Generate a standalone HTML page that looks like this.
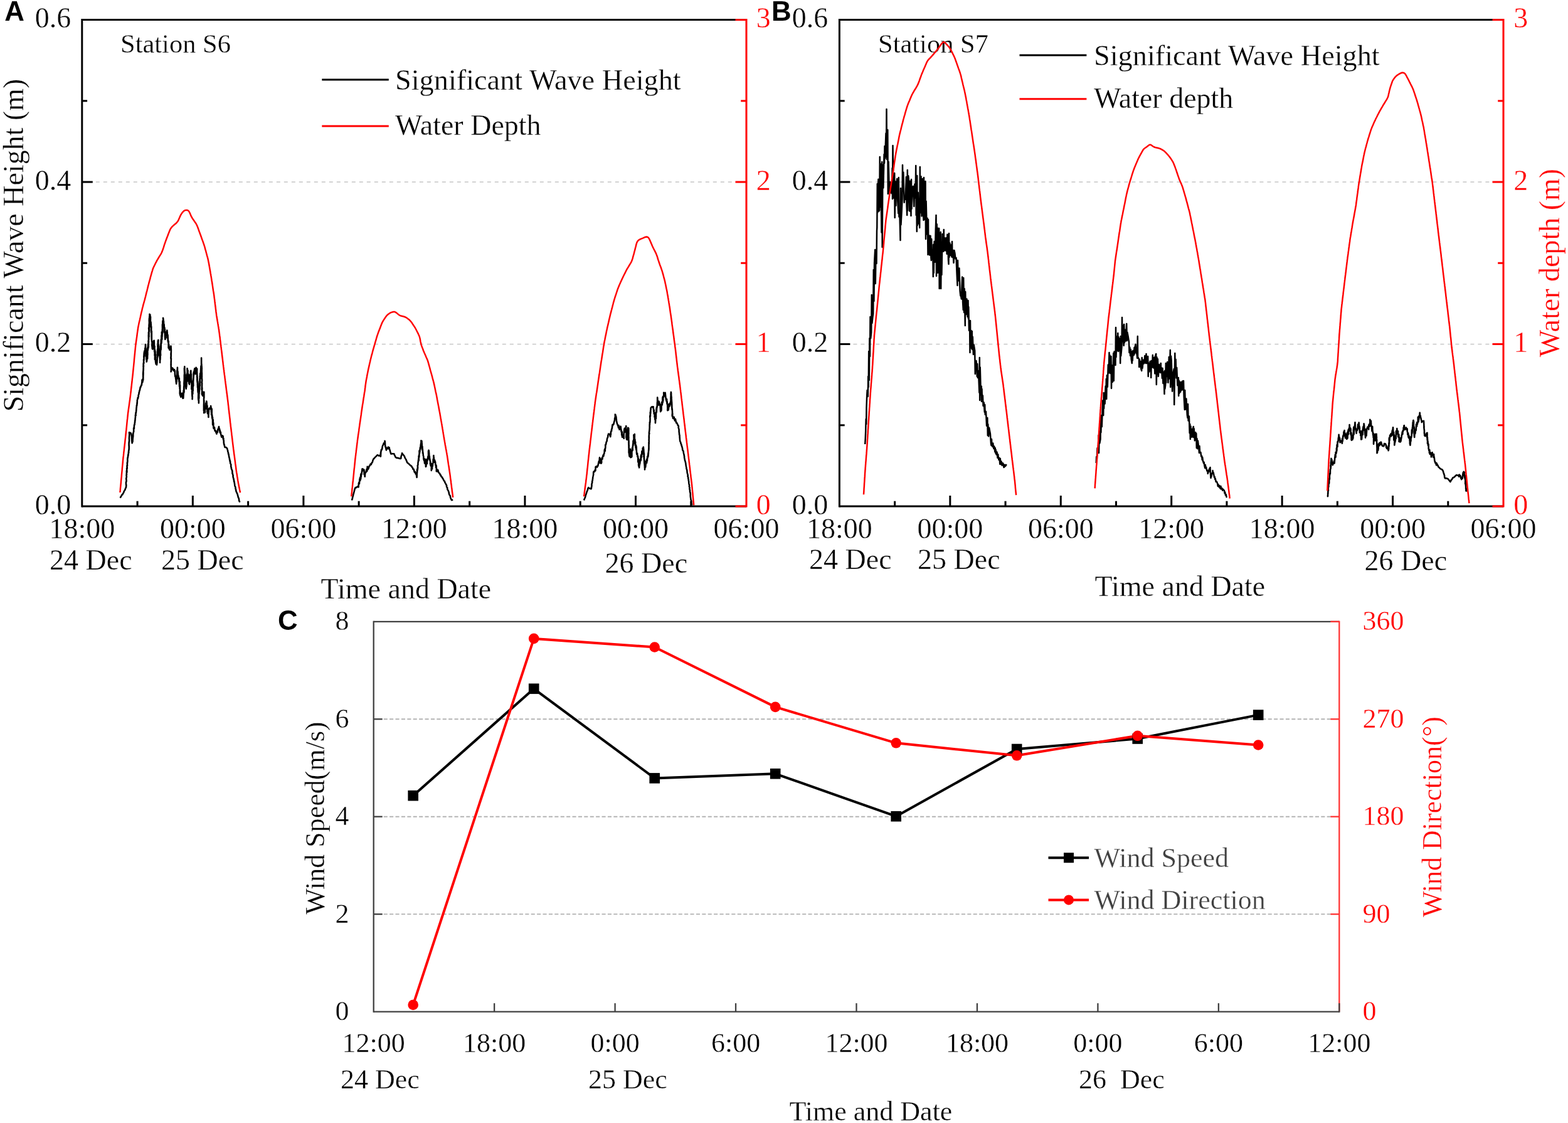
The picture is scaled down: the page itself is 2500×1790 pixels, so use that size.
<!DOCTYPE html>
<html lang="en">
<head>
<meta charset="utf-8">
<title>Significant wave height, water depth and wind</title>
<style>
html,body{margin:0;padding:0;background:#fff;}
body{width:2500px;height:1790px;overflow:hidden;}
svg text{white-space:pre;}
</style>
</head>
<body>
<svg width="2500" height="1790" viewBox="0 0 2500 1790" style="display:block">
<rect width="2500" height="1790" fill="#fff"/>
<line x1="152.8" y1="548.53" x2="1170.0" y2="548.53" stroke="#cdcdcd" stroke-width="1.8" stroke-dasharray="6 6"/>
<line x1="152.8" y1="290.07" x2="1170.0" y2="290.07" stroke="#cdcdcd" stroke-width="1.8" stroke-dasharray="6 6"/>
<text x="192.0" y="84.3" font-family='"Liberation Serif", serif' font-size="42.5" font-weight="normal" fill="#000" text-anchor="start" stroke="#ffffff" stroke-width="0.35" stroke-linejoin="round">Station S6</text>
<polyline points="191.7,793.7 192.4,792.1 192.8,791.6 193.5,790.6 194.3,788.8 195.4,788.3 195.9,786.8 196.7,785.7 197.4,784.6 197.6,783.4 198.5,782.0 199.6,780.2 199.9,778.9 200.6,777.6 201.1,776.2 201.1,775.3 201.3,773.0 200.9,771.8 201.0,771.0 200.9,769.1 201.2,767.9 201.6,767.0 201.5,765.7 201.3,763.7 201.2,762.8 201.6,761.0 201.8,760.2 201.7,758.8 201.5,756.9 202.0,756.4 201.7,755.0 201.9,753.6 201.8,750.5 202.4,752.6 202.3,750.1 202.1,746.3 202.3,747.4 202.8,746.4 202.4,742.5 203.0,741.5 203.0,742.4 202.8,738.2 203.2,737.5 203.0,738.1 202.9,737.2 203.5,735.0 203.3,734.1 203.4,729.9 203.6,730.2 204.0,728.0 203.9,728.6 204.3,724.6 204.3,726.5 204.8,722.5 204.9,722.5 204.9,720.3 205.2,721.4 205.1,718.4 205.6,717.2 205.5,716.2 205.7,715.7 205.8,711.8 205.7,713.5 205.7,710.4 205.5,709.7 205.6,709.4 205.6,705.6 206.0,703.4 205.9,704.9 205.8,703.8 206.1,702.5 205.9,698.4 205.9,698.8 206.1,695.8 206.2,695.6 206.1,695.4 206.4,692.6 206.3,692.7 206.0,689.2 206.3,689.4 207.2,689.6 208.6,690.4 209.3,692.3 209.5,693.1 209.6,693.7 210.0,696.0 210.0,699.2 210.1,699.4 210.3,702.9 210.3,704.1 210.6,702.3 210.6,706.3 211.0,705.2 211.0,703.3 211.2,701.8 211.6,703.8 211.5,702.2 211.7,700.0 212.0,696.7 212.2,696.2 212.2,695.2 212.3,693.7 212.2,690.6 212.3,690.7 212.4,691.0 213.1,687.8 213.3,687.7 213.2,687.4 213.1,682.6 213.9,681.0 213.9,683.1 213.8,681.1 214.1,677.0 214.2,677.6 214.7,676.5 214.7,675.9 214.9,673.2 215.2,673.2 215.0,671.0 215.4,671.0 215.5,668.6 215.8,665.7 216.0,664.4 216.0,664.9 215.9,661.5 216.6,662.2 216.3,658.3 217.0,658.3 216.9,657.0 217.2,655.1 217.2,653.5 217.2,654.9 217.4,652.7 217.5,649.9 217.7,649.5 217.7,649.4 217.9,646.1 218.3,646.3 218.5,641.8 218.6,644.0 218.8,641.0 218.8,638.2 219.2,636.5 219.8,635.3 219.5,634.3 220.2,634.6 220.3,632.9 220.8,631.7 220.6,630.0 221.2,628.7 221.6,627.6 221.5,626.3 222.1,624.8 222.3,623.0 222.7,621.9 222.9,622.1 223.6,617.6 224.0,616.7 224.1,617.6 224.8,615.2 225.2,614.8 225.6,613.1 225.8,614.0 226.5,607.4 226.4,606.2 227.2,604.6 227.3,609.4 227.7,606.5 228.1,606.0 228.3,605.3 228.1,600.0 228.4,603.0 228.0,595.9 228.3,599.6 228.5,593.6 228.2,596.0 228.1,594.3 228.7,589.1 228.3,593.1 228.7,586.7 228.7,588.2 228.5,587.9 228.7,586.5 228.5,583.4 228.9,584.6 228.7,579.1 228.6,582.0 229.2,576.3 229.3,578.9 229.0,573.8 229.1,573.0 229.3,572.1 229.3,573.8 229.5,574.2 229.7,567.2 229.6,565.8 229.3,569.6 229.7,563.0 230.3,559.7 230.4,567.8 230.7,560.7 230.4,559.2 230.7,560.7 231.2,557.8 231.3,555.1 231.7,557.0 232.0,549.1 232.0,554.5 231.9,559.3 232.1,554.5 232.5,556.0 232.6,561.3 232.5,556.8 233.1,564.3 233.1,562.1 233.3,561.3 233.4,563.2 233.1,567.8 233.4,573.2 233.9,573.1 233.8,576.6 234.2,574.3 234.3,573.9 234.1,573.9 234.3,568.9 234.4,570.9 234.6,566.3 234.6,563.7 235.1,568.9 235.1,571.7 235.3,558.4 235.4,565.7 235.2,556.3 235.2,555.0 235.4,558.6 235.5,553.4 236.0,555.6 235.7,558.6 236.0,548.2 236.4,551.8 236.3,554.3 236.2,555.5 236.6,551.2 236.4,554.6 236.8,552.7 236.6,543.5 236.7,548.2 236.5,543.2 237.0,546.3 236.8,533.7 237.2,540.8 237.1,539.1 236.9,529.9 237.2,531.5 237.1,533.9 237.5,537.0 237.4,525.8 237.1,522.8 237.6,526.7 237.6,527.2 237.5,532.3 237.6,517.4 237.9,528.3 237.6,519.7 238.0,513.3 237.7,520.2 238.1,516.5 237.8,511.1 238.0,507.0 238.2,507.3 238.5,506.2 238.3,504.4 238.2,508.6 238.6,509.2 238.7,504.9 238.5,500.8 238.6,510.1 238.8,502.8 239.1,510.7 238.8,511.4 239.4,501.8 239.3,507.8 239.4,507.9 239.7,511.0 240.0,505.1 239.8,515.9 240.0,513.3 240.1,521.0 240.3,515.0 240.7,516.3 240.5,513.2 241.0,522.1 240.8,516.4 241.1,530.2 241.3,520.7 241.1,523.2 241.4,530.9 241.5,529.1 241.6,534.2 241.5,534.5 241.8,528.1 241.8,529.8 241.8,541.6 241.7,540.4 241.5,535.2 241.7,539.0 242.0,543.5 241.8,540.3 242.0,543.2 242.1,545.3 242.5,544.0 242.3,551.3 242.5,551.6 242.4,550.3 242.4,550.6 242.5,551.9 242.9,556.1 243.4,556.5 243.7,548.1 244.0,548.2 243.8,551.4 244.4,549.3 244.5,549.9 245.1,545.0 244.8,545.1 245.3,543.1 245.2,549.3 245.6,551.4 245.7,542.7 245.9,547.2 245.9,547.0 245.7,556.0 245.9,549.0 246.2,560.8 246.5,551.8 246.6,552.7 246.4,553.2 246.7,562.0 246.6,566.8 246.9,563.4 247.1,558.1 246.9,572.9 247.5,560.1 247.6,569.7 247.7,567.9 247.7,564.7 247.8,566.5 247.7,568.1 248.0,576.2 248.7,580.4 249.6,581.2 250.0,581.5 250.1,579.9 250.1,578.1 250.3,579.2 250.8,568.9 250.5,569.7 250.8,569.8 250.6,565.1 251.0,562.7 251.1,563.8 251.1,564.0 250.8,560.9 251.2,565.7 251.3,569.0 250.9,562.8 251.0,565.6 251.2,561.2 251.1,557.0 251.3,559.7 251.3,559.3 251.6,554.0 251.4,550.9 251.6,550.6 251.9,544.9 252.0,552.4 251.8,552.5 251.8,551.7 251.8,543.8 252.4,541.9 252.1,550.3 252.6,553.1 252.5,551.8 252.9,549.5 253.2,555.0 253.1,551.4 253.4,555.1 253.7,564.9 253.4,556.2 253.6,563.9 253.7,566.5 254.2,561.4 253.9,564.6 254.1,563.7 254.4,562.5 254.8,571.9 254.9,571.7 255.1,577.9 255.0,564.9 255.2,572.3 255.3,573.7 255.5,572.3 255.7,564.3 255.6,562.0 255.9,558.1 255.7,561.4 256.2,566.1 255.8,564.0 256.3,551.0 256.1,552.8 256.3,553.3 256.5,547.1 256.6,557.4 256.7,554.7 256.7,553.9 256.7,541.8 256.8,549.0 257.4,541.4 257.1,540.5 257.4,547.0 257.4,534.9 257.5,543.1 257.6,545.1 257.9,534.1 257.8,529.2 258.2,541.1 258.3,539.7 258.1,530.6 258.5,533.3 258.5,536.8 258.8,527.4 258.7,525.9 259.2,530.8 258.9,517.2 259.0,526.0 259.3,521.0 259.2,522.0 259.2,520.7 259.4,511.8 259.5,511.4 259.9,513.6 260.2,512.2 260.0,511.2 260.5,509.8 260.0,506.8 260.4,512.2 260.4,519.5 260.7,516.5 261.1,517.2 260.9,511.9 261.0,518.5 261.3,520.3 261.7,520.8 261.7,517.4 261.9,528.6 262.1,529.7 262.0,527.4 262.2,522.0 262.4,522.2 262.7,530.6 262.9,525.0 263.2,534.8 262.8,531.4 263.0,537.3 263.3,541.0 264.1,538.8 264.3,537.1 265.2,529.2 265.5,528.9 266.2,534.6 266.3,526.5 266.8,531.1 266.7,531.7 267.2,537.2 266.8,538.5 267.5,534.4 267.5,533.8 267.8,539.7 267.6,543.0 267.8,539.9 267.9,544.9 267.8,540.7 268.2,545.9 268.3,546.0 268.7,544.5 268.7,543.7 268.6,554.5 269.0,548.7 269.3,551.3 269.4,550.1 269.2,555.1 269.4,554.4 269.8,556.0 270.5,557.8 271.4,553.7 272.5,551.6 272.9,558.0 272.6,557.6 272.9,556.9 272.8,563.5 272.5,564.0 272.7,563.0 272.5,566.3 272.6,562.5 272.8,564.2 272.5,571.2 272.8,566.4 272.4,569.4 272.5,571.9 272.5,572.2 272.9,571.3 272.6,579.4 272.5,580.4 272.5,580.7 272.9,580.7 272.6,581.2 272.7,585.7 272.9,584.9 272.7,586.3 272.8,589.3 272.9,586.7 272.8,591.6 272.6,592.4 274.3,586.3 275.4,586.9 276.6,590.7 278.4,591.3 278.0,589.1 278.7,592.8 278.6,592.6 278.9,591.1 278.9,596.0 279.2,599.8 279.5,599.7 279.5,599.3 279.9,600.4 279.9,601.2 280.3,604.6 280.5,605.5 280.7,608.8 281.1,610.1 281.1,611.8 281.2,610.2 281.7,607.7 281.3,605.1 281.9,606.0 282.0,601.6 281.9,600.3 282.0,600.8 282.1,596.8 282.1,599.6 282.4,598.5 282.2,596.3 282.4,590.1 282.6,596.0 282.9,585.8 283.0,593.2 282.9,589.3 283.4,596.3 283.5,592.0 283.8,596.8 284.0,597.6 284.4,603.5 284.6,599.4 284.7,600.0 284.8,602.6 285.2,602.5 285.5,608.7 285.8,602.7 285.9,612.5 285.9,607.0 286.1,616.0 286.7,608.3 286.6,619.5 286.4,613.2 286.7,615.2 287.0,622.5 287.1,614.0 286.7,626.8 286.8,628.0 287.2,626.8 287.1,629.8 287.1,628.5 287.2,622.2 287.8,631.0 288.4,632.9 289.0,627.4 290.1,631.5 290.6,626.7 291.3,633.9 291.6,631.5 291.6,626.6 291.5,634.9 292.2,634.8 292.4,631.9 292.4,628.9 292.6,630.7 292.5,622.8 293.0,626.8 293.2,615.9 293.4,618.2 293.5,625.0 293.5,615.9 293.4,609.8 293.6,609.6 293.6,606.9 293.8,615.3 293.5,614.7 293.5,614.8 293.6,613.2 294.0,610.6 294.0,612.3 293.7,611.3 293.9,597.3 293.9,600.9 293.8,600.1 293.9,596.8 294.1,601.6 294.0,596.6 294.2,599.2 293.9,587.1 294.4,591.0 294.3,598.4 294.2,593.2 294.5,588.8 294.3,591.9 294.3,584.4 294.4,589.8 294.8,596.0 294.7,596.8 294.5,591.3 295.0,596.1 295.2,600.7 295.3,596.9 295.2,600.5 295.2,605.5 295.4,603.2 295.6,609.0 295.5,605.0 295.9,604.7 296.1,603.4 295.9,602.6 296.3,617.2 296.0,612.8 296.5,618.3 296.6,612.0 296.7,613.1 296.8,619.8 296.9,608.2 296.6,612.2 297.0,605.5 297.2,609.9 297.1,617.6 297.6,613.2 297.4,601.2 297.6,610.2 297.6,603.6 298.0,602.9 297.9,597.6 298.3,607.6 298.4,594.6 298.2,604.4 298.5,599.4 298.3,601.6 298.3,599.3 298.7,595.7 298.5,587.4 298.9,591.3 299.0,595.5 299.1,590.2 299.5,590.4 299.4,601.5 299.6,602.5 300.0,605.7 300.0,595.9 300.1,596.1 300.1,598.9 300.6,599.8 300.5,606.2 300.6,605.8 301.0,606.7 301.1,602.9 300.8,608.4 301.2,608.8 301.2,611.0 301.7,610.7 302.0,612.8 302.4,603.8 302.4,598.2 302.5,609.7 302.7,597.4 303.2,600.9 303.8,603.7 303.9,592.1 304.3,599.3 304.5,598.4 304.3,590.9 304.5,606.3 304.8,604.9 304.7,606.6 304.9,596.6 304.8,604.6 305.1,603.7 304.9,606.7 305.3,610.8 305.2,608.2 305.6,608.0 305.5,616.1 305.7,607.5 305.4,619.2 305.4,620.3 305.7,619.6 306.0,617.2 306.2,621.3 306.4,623.8 306.0,623.5 306.5,632.3 306.3,629.6 306.8,632.1 306.6,636.3 306.7,632.3 306.6,626.1 306.7,622.7 307.1,622.4 307.2,622.2 307.3,627.8 307.2,618.3 307.2,611.4 307.4,618.4 307.7,623.2 307.4,609.8 307.6,614.7 308.0,605.8 307.9,616.0 308.0,612.9 308.3,614.9 308.1,608.7 308.4,601.2 308.2,607.6 308.4,600.6 308.6,602.3 308.5,600.5 308.5,595.1 308.8,599.2 308.9,592.9 309.3,595.9 309.8,590.2 310.4,587.3 311.5,596.3 312.1,591.2 312.6,585.9 313.7,588.8 313.9,591.9 313.8,595.5 313.6,595.9 314.2,587.7 314.0,595.9 314.2,593.5 314.2,600.2 314.4,600.2 314.1,600.8 314.3,597.3 314.4,607.7 314.3,604.4 314.5,600.8 314.6,609.5 315.0,609.7 314.9,614.1 314.9,606.7 315.0,608.4 315.0,617.8 315.3,611.8 315.4,608.5 315.7,619.8 315.5,622.6 315.4,619.2 315.6,624.0 315.7,625.4 316.1,620.0 316.2,619.1 315.7,623.6 316.2,627.3 316.1,626.8 316.3,624.5 316.1,635.3 316.6,630.6 316.3,636.9 316.4,638.0 316.5,629.5 316.9,642.4 317.0,633.3 316.7,637.8 316.7,630.7 317.0,631.2 317.3,629.6 317.3,635.0 317.2,629.9 317.3,624.3 317.5,628.2 317.6,627.2 317.5,624.2 317.7,624.9 318.2,619.7 317.9,623.5 318.1,614.8 318.3,619.8 318.2,611.3 318.6,610.6 318.7,615.1 318.6,612.8 318.5,603.5 318.5,611.3 318.9,607.5 318.7,599.6 318.9,600.3 319.1,595.2 319.4,603.4 319.4,597.4 319.7,601.9 319.5,601.3 319.5,600.9 319.8,595.1 320.3,585.9 320.1,597.4 320.5,596.1 320.6,583.7 320.4,593.2 320.4,583.5 320.5,590.7 320.8,590.2 321.2,589.4 321.1,581.0 321.2,582.5 321.1,570.6 321.1,582.5 321.5,588.1 321.4,580.3 321.2,581.4 321.7,584.4 321.1,580.7 321.4,582.1 321.6,585.6 321.7,594.3 321.3,594.6 321.8,586.1 321.6,597.3 321.5,600.0 321.9,598.7 321.5,595.1 321.9,594.2 321.9,598.2 321.8,604.2 321.7,602.7 322.0,600.0 321.6,600.1 322.1,604.7 322.1,607.9 321.5,609.6 321.8,608.8 321.9,615.1 322.1,610.2 322.0,619.5 321.8,621.1 321.7,621.1 321.7,621.3 321.9,615.4 322.1,617.6 322.3,618.8 321.9,628.1 323.2,630.9 323.9,624.9 325.2,625.7 325.3,631.4 325.2,629.9 325.3,624.8 325.3,634.2 325.2,629.5 325.0,637.1 325.1,643.2 325.4,645.5 325.3,638.8 325.4,638.6 325.0,644.2 325.4,646.1 325.1,649.9 325.3,644.8 325.4,652.2 324.9,654.7 325.0,643.3 324.9,648.1 325.3,646.0 325.4,655.8 325.1,658.2 325.5,655.7 326.2,654.4 326.9,657.4 326.9,651.3 327.8,651.1 328.3,642.6 328.4,651.5 329.3,639.6 329.5,640.8 329.3,650.5 329.5,641.2 329.8,645.5 330.5,647.0 330.4,656.2 331.1,659.1 330.9,657.3 331.5,659.0 331.6,656.9 332.1,659.2 332.4,665.0 332.5,660.7 333.1,651.5 333.8,650.5 334.5,651.7 335.5,651.3 336.1,647.1 336.5,650.3 337.0,657.7 337.3,658.1 337.4,656.8 337.1,661.1 337.2,650.9 337.7,652.1 337.7,657.8 337.7,659.8 338.2,666.6 338.0,660.6 338.2,662.1 338.6,667.7 339.0,669.2 339.0,665.4 339.0,667.6 339.0,669.7 339.1,677.1 339.7,669.0 339.8,671.9 339.8,674.4 340.1,679.1 340.3,674.4 340.2,675.3 340.3,676.2 340.4,682.2 341.1,683.1 341.9,681.2 342.6,686.9 343.1,686.9 343.7,686.3 344.4,689.1 345.4,691.6 345.5,690.7 346.6,686.8 346.8,689.0 347.5,684.0 347.9,685.0 348.5,681.9 349.0,680.0 349.3,682.7 350.0,683.6 350.7,689.5 350.7,686.0 351.4,690.0 351.9,689.0 351.9,691.1 353.3,696.7 354.3,694.3 354.9,696.1 355.6,695.0 355.7,699.4 356.0,698.9 356.4,698.8 356.3,701.6 356.7,701.7 356.8,706.2 356.8,705.5 357.2,708.8 357.5,708.2 357.7,709.4 357.8,710.2 358.5,712.9 359.8,713.0 360.7,713.3 362.1,714.6 362.4,715.8 362.7,716.8 363.2,718.3 363.1,719.2 363.5,720.4 364.1,722.0 364.0,723.4 364.7,724.3 364.8,725.9 365.1,727.3 365.2,728.4 365.5,729.5 365.9,730.9 366.1,732.8 366.7,733.5 366.5,735.2 367.3,736.3 367.0,737.5 367.3,738.8 368.1,740.0 368.3,741.0 368.2,742.3 368.3,744.3 368.9,745.6 368.8,746.8 369.2,747.9 369.6,748.7 370.2,750.0 370.4,751.7 370.5,753.1 370.4,754.7 370.9,755.1 371.3,756.9 371.7,758.4 371.4,759.3 371.7,760.5 372.0,761.9 372.6,763.2 372.5,764.3 373.1,765.8 373.0,767.5 373.6,768.0 373.8,769.9 374.1,771.5 374.1,771.9 374.3,773.7 374.6,775.0 375.2,775.9 375.5,777.5 375.5,779.2 376.1,780.1 376.2,781.8 376.6,783.3 377.2,784.7 377.4,785.2 378.2,786.8 378.7,788.0 379.1,790.0 379.5,790.8 379.7,792.7 380.4,793.4 380.9,795.5 381.1,796.5 381.2,798.3 381.7,798.9 382.3,800.6" fill="none" stroke="#000" stroke-width="2.6" stroke-linejoin="round" stroke-linecap="butt" stroke-linejoin="miter"/>
<polyline points="191.4,785.0 191.6,783.0 191.8,781.0 191.9,779.0 192.1,777.0 192.3,775.0 192.5,773.0 192.7,771.0 192.9,769.0 193.0,767.0 193.2,765.0 193.4,763.0 193.6,761.0 193.8,759.0 193.9,757.0 194.1,755.0 194.3,753.0 194.5,751.0 194.7,749.0 194.8,747.0 195.0,745.0 195.2,743.0 195.4,741.0 195.6,739.0 195.8,737.0 195.9,735.0 196.1,733.0 196.3,731.0 196.5,728.9 196.8,726.9 197.0,724.8 197.2,722.8 197.4,720.7 197.7,718.6 197.9,716.6 198.1,714.5 198.4,712.5 198.6,710.4 198.8,708.4 199.1,706.3 199.3,704.2 199.5,702.2 199.7,700.1 200.0,698.1 200.2,696.0 200.4,693.9 200.6,691.9 200.8,689.8 201.0,687.8 201.3,685.7 201.5,683.7 201.7,681.6 201.9,679.6 202.1,677.5 202.3,675.4 202.5,673.4 202.7,671.3 202.9,669.3 203.2,667.2 203.4,665.2 203.6,663.1 203.8,661.1 204.0,659.0 204.3,657.0 204.6,655.0 204.8,653.0 205.1,651.0 205.4,649.0 205.7,647.0 206.0,645.0 206.2,643.0 206.5,641.0 206.8,639.0 207.1,637.0 207.3,635.0 207.6,633.0 207.9,631.0 208.1,629.0 208.3,627.0 208.6,625.0 208.8,623.0 209.0,621.0 209.2,619.0 209.5,617.0 209.7,615.0 209.9,613.0 210.1,611.0 210.4,609.0 210.6,607.0 210.8,605.0 211.0,603.0 211.3,601.0 211.5,599.0 211.7,597.0 211.9,595.0 212.1,593.0 212.3,591.0 212.5,589.0 212.7,587.0 212.9,585.0 213.1,583.0 213.3,581.0 213.5,579.0 213.7,577.0 213.9,575.0 214.0,573.0 214.2,571.0 214.4,569.0 214.6,567.0 214.8,565.0 215.0,563.0 215.2,561.0 215.4,559.0 215.6,557.0 215.8,555.0 216.0,553.0 216.2,551.0 216.4,549.0 216.7,546.9 217.0,544.9 217.3,542.8 217.6,540.7 217.9,538.6 218.2,536.6 218.5,534.5 218.7,532.4 219.0,530.4 219.3,528.3 219.6,526.2 219.9,524.1 220.2,522.1 220.6,520.0 221.0,518.0 221.4,516.0 221.8,514.0 222.3,512.0 222.8,510.0 223.2,508.0 223.7,506.0 224.1,503.9 224.6,501.7 225.1,499.5 225.6,497.3 226.2,495.1 226.7,492.8 227.2,490.6 227.8,488.5 228.3,486.4 228.9,484.2 229.5,482.1 230.1,480.0 230.7,477.9 231.2,475.7 231.8,473.6 232.3,471.5 232.8,469.5 233.3,467.4 233.8,465.3 234.4,463.3 234.9,461.2 235.4,459.1 235.9,457.1 236.4,455.0 237.0,452.9 237.5,450.8 238.1,448.6 238.7,446.5 239.3,444.4 239.8,442.2 240.4,440.1 241.0,438.0 241.6,435.9 242.2,433.7 242.9,431.6 243.5,429.4 244.3,427.3 245.2,425.3 246.2,423.2 247.2,421.2 248.2,419.1 249.3,417.1 250.3,415.1 251.4,413.3 252.5,411.5 253.6,409.7 254.7,407.9 255.8,406.1 256.9,404.3 257.8,402.5 258.6,400.5 259.4,398.5 260.1,396.4 260.8,394.3 261.4,392.3 262.1,390.2 262.8,388.1 263.5,386.1 264.2,384.0 265.0,382.0 265.7,380.0 266.5,378.0 267.3,376.0 268.0,374.0 268.8,372.0 269.6,370.0 270.4,368.0 271.2,366.1 272.2,364.2 273.5,362.5 274.9,360.9 276.6,359.4 278.4,357.8 280.3,356.3 282.0,354.6 283.4,352.8 284.5,350.8 285.4,348.8 286.2,346.9 287.1,344.9 288.1,342.9 289.1,341.1 290.3,339.4 291.6,337.8 293.0,336.4 294.6,335.4 296.4,334.9 298.3,334.9 300.0,335.6 301.3,337.0 302.3,338.8 303.2,340.8 304.1,342.9 305.0,344.9 306.1,346.9 307.2,348.8 308.5,350.6 309.8,352.4 311.0,354.2 312.3,356.0 313.3,357.8 314.2,359.7 315.0,361.6 315.7,363.5 316.4,365.4 317.0,367.2 317.7,369.1 318.4,371.0 319.1,372.9 319.8,374.8 320.5,376.7 321.2,378.6 321.8,380.5 322.5,382.4 323.2,384.2 323.9,386.1 324.5,388.0 325.2,389.9 325.8,391.8 326.4,393.7 326.9,395.7 327.4,397.6 328.0,399.5 328.5,401.5 329.0,403.4 329.5,405.3 330.0,407.3 330.6,409.2 331.1,411.1 331.6,413.1 332.0,415.0 332.4,417.0 332.8,419.0 333.2,421.0 333.5,423.1 333.9,425.1 334.2,427.1 334.6,429.1 334.9,431.1 335.3,433.1 335.6,435.2 336.0,437.2 336.3,439.2 336.7,441.2 337.0,443.3 337.3,445.3 337.6,447.4 338.0,449.4 338.3,451.5 338.6,453.5 338.9,455.6 339.2,457.6 339.5,459.7 339.8,461.7 340.1,463.8 340.5,465.8 340.8,467.9 341.1,469.9 341.4,472.0 341.6,474.1 341.9,476.1 342.2,478.2 342.4,480.2 342.7,482.3 342.9,484.4 343.2,486.4 343.4,488.5 343.7,490.5 343.9,492.6 344.2,494.7 344.4,496.7 344.7,498.8 345.0,500.8 345.2,502.9 345.6,505.0 345.9,507.1 346.3,509.2 346.6,511.3 347.0,513.4 347.3,515.5 347.7,517.6 348.0,519.7 348.4,521.8 348.7,523.9 349.1,526.0 349.3,528.1 349.6,530.1 349.9,532.2 350.1,534.2 350.4,536.3 350.7,538.4 350.9,540.4 351.2,542.5 351.4,544.5 351.7,546.6 351.9,548.6 352.2,550.7 352.4,552.7 352.7,554.7 352.9,556.7 353.2,558.7 353.4,560.8 353.7,562.8 353.9,564.8 354.1,566.8 354.4,568.8 354.6,570.8 354.9,572.8 355.1,574.8 355.3,576.8 355.6,578.8 355.8,580.9 356.1,582.9 356.3,584.9 356.6,586.9 356.8,588.9 357.1,590.9 357.3,592.9 357.6,594.9 357.8,596.9 358.1,598.9 358.4,600.9 358.6,602.9 358.9,604.9 359.1,606.9 359.4,608.9 359.6,610.9 359.9,612.9 360.2,615.0 360.4,617.0 360.7,619.0 360.9,621.0 361.2,623.0 361.4,625.0 361.7,627.0 362.0,629.0 362.2,631.0 362.5,633.0 362.7,635.0 363.0,637.0 363.2,639.0 363.5,641.0 363.7,643.0 363.9,645.0 364.2,647.1 364.4,649.1 364.6,651.1 364.8,653.1 365.1,655.1 365.3,657.1 365.5,659.1 365.8,661.1 366.0,663.1 366.2,665.1 366.5,667.2 366.7,669.2 366.9,671.2 367.1,673.2 367.4,675.2 367.6,677.2 367.8,679.2 368.1,681.3 368.3,683.3 368.6,685.3 368.8,687.3 369.1,689.4 369.3,691.4 369.5,693.4 369.8,695.4 370.0,697.5 370.3,699.5 370.5,701.5 370.7,703.5 371.0,705.6 371.2,707.6 371.5,709.6 371.7,711.6 372.0,713.7 372.2,715.7 372.5,717.8 372.8,719.9 373.0,722.0 373.3,724.1 373.6,726.1 373.9,728.2 374.1,730.3 374.4,732.4 374.7,734.5 375.0,736.6 375.2,738.7 375.5,740.8 375.8,742.8 376.1,744.9 376.3,747.0 376.6,749.1 376.9,751.2 377.2,753.3 377.6,755.3 377.9,757.4 378.2,759.5 378.6,761.5 378.9,763.6 379.2,765.7 379.6,767.7 379.9,769.9 380.4,772.0 380.8,774.2 381.2,776.4 381.7,778.6 382.1,780.8 382.6,783.0 383.0,785.2" fill="none" stroke="#ff0000" stroke-width="2.5" stroke-linejoin="round" stroke-linecap="butt"/>
<polyline points="561.0,797.5 561.4,795.8 561.9,794.9 561.8,793.7 562.3,792.6 562.7,790.7 563.1,789.7 563.3,788.0 563.8,787.0 564.0,785.7 564.6,783.8 564.8,782.8 565.3,781.2 565.5,779.9 566.1,778.4 566.7,777.1 568.0,777.3 569.4,776.0 571.3,775.0 571.5,776.5 571.7,774.6 571.8,771.0 572.3,769.0 572.7,768.5 572.9,771.2 573.4,763.9 573.9,762.9 573.9,761.9 574.3,765.9 574.4,760.6 575.2,763.5 575.2,756.6 575.7,760.2 575.7,755.1 576.5,756.3 576.9,751.9 576.9,752.8 577.2,749.9 577.6,747.3 577.8,750.7 578.5,748.1 578.7,747.7 579.1,748.7 579.5,750.0 579.7,750.1 579.9,749.4 580.5,748.7 580.6,756.2 580.9,753.0 581.7,758.6 581.7,759.8 582.1,755.6 582.6,752.7 583.0,753.3 583.8,752.0 583.9,750.7 584.8,747.6 585.2,751.2 585.4,749.6 585.7,743.8 586.7,748.1 587.6,746.5 588.7,742.9 589.5,742.6 590.7,739.7 591.7,740.4 592.6,738.5 592.8,737.3 593.7,736.8 594.2,735.4 594.4,733.7 595.4,732.3 595.5,731.3 596.6,730.6 597.9,729.0 598.9,728.1 599.9,727.1 601.1,725.8 602.2,725.3 602.8,725.8 604.3,726.6 605.4,725.7 606.6,726.6 606.9,727.6 607.1,725.0 606.8,722.4 607.1,724.0 607.3,720.2 607.6,719.2 607.7,718.2 607.9,716.8 608.4,717.3 609.1,716.1 609.4,714.2 609.7,712.0 610.2,710.4 611.0,708.9 611.5,708.2 611.6,706.9 612.5,705.9 613.1,706.0 613.5,702.9 613.8,703.9 614.0,706.2 614.0,708.6 614.0,708.0 614.4,712.3 614.8,712.3 615.0,712.2 615.4,713.5 615.3,714.5 615.9,717.5 616.9,714.6 617.7,715.2 618.9,712.5 619.3,713.4 620.2,715.5 620.6,713.4 621.1,716.5 621.7,717.4 622.0,719.4 622.5,720.7 623.0,722.6 623.6,723.6 624.8,723.1 626.3,723.2 628.3,723.3 628.8,724.8 629.1,725.6 629.9,726.9 630.6,728.7 631.3,729.2 632.4,729.9 633.6,729.7 635.1,730.3 636.1,730.4 637.7,730.9 639.2,730.9 639.4,729.6 639.4,728.1 639.8,726.8 640.2,725.7 640.8,724.3 641.0,722.3 642.3,724.2 643.1,724.9 644.2,726.4 645.0,727.7 645.4,729.2 646.1,730.5 646.6,731.5 647.5,732.5 647.6,733.6 648.4,734.8 648.8,736.5 649.6,737.6 650.8,738.5 651.4,739.1 652.7,740.2 653.6,741.3 654.5,741.7 655.5,742.8 656.2,742.8 656.8,744.7 657.8,745.4 658.5,747.8 659.5,747.7 660.5,751.5 660.9,752.7 661.8,751.9 662.7,755.4 663.2,754.3 663.5,754.8 664.6,760.9 664.8,755.4 664.6,757.1 665.2,750.4 665.0,753.9 665.0,748.4 665.5,750.0 665.8,745.3 665.9,748.0 666.1,744.2 665.7,742.5 666.0,741.7 666.4,741.3 666.5,737.5 666.9,735.7 667.0,735.7 666.8,735.0 667.4,731.9 667.2,731.4 667.7,734.2 667.7,732.0 667.6,726.7 668.1,728.7 668.3,728.5 668.4,723.7 668.7,722.8 668.5,720.3 668.6,718.3 668.8,723.2 669.5,718.0 669.4,720.0 669.7,715.8 669.9,713.3 670.3,715.7 670.6,711.7 670.6,710.8 670.8,708.7 671.3,705.8 671.5,709.4 671.4,702.2 671.8,707.9 672.2,707.7 672.5,709.7 672.3,708.4 672.4,702.7 672.6,709.1 672.6,705.7 673.1,713.1 673.3,717.5 673.5,712.1 673.4,713.1 673.8,717.0 673.8,716.0 674.1,720.7 673.9,722.0 674.2,721.2 674.4,721.3 674.8,726.1 675.3,727.5 675.4,731.9 675.9,730.7 675.9,733.6 676.6,734.8 676.8,732.8 677.0,738.5 677.7,731.8 678.1,735.9 678.2,734.0 678.8,741.9 678.9,744.0 679.4,743.0 679.9,734.2 679.9,732.5 680.3,737.1 680.9,739.1 681.0,736.0 681.2,731.9 681.5,734.1 682.2,728.8 682.5,727.2 682.9,728.9 683.1,727.5 683.0,719.1 683.5,717.7 683.8,718.6 684.2,722.9 684.4,731.6 684.3,727.5 684.8,727.3 685.1,733.1 685.2,731.0 685.4,732.2 686.1,736.9 685.9,738.3 686.2,740.3 686.4,736.5 686.6,742.1 687.0,739.1 687.1,743.0 687.8,739.4 687.8,747.2 687.8,749.9 688.4,744.0 688.3,743.4 689.0,747.4 689.0,745.9 689.5,739.1 689.7,742.9 689.7,743.1 690.0,740.6 690.1,738.8 690.5,738.2 690.7,732.1 691.1,737.0 691.4,726.0 691.2,731.8 691.6,728.2 692.2,734.1 692.1,733.1 692.6,736.8 693.2,733.5 693.3,735.2 693.9,735.8 694.1,736.8 694.5,741.7 695.0,740.8 695.0,745.3 695.6,742.0 695.9,747.4 695.8,751.3 697.1,751.4 698.0,748.8 698.5,750.0 699.4,753.4 700.9,754.5 701.4,755.4 701.9,757.1 702.9,757.5 703.4,759.4 704.3,760.4 705.2,760.8 705.7,762.8 706.7,763.6 707.3,765.3 708.1,766.6 709.0,767.1 709.2,768.6 710.1,770.2 710.6,771.0 711.4,772.7 712.1,773.8 712.0,775.7 712.4,776.5 713.2,777.4 713.3,779.6 713.6,780.5 714.5,781.6 714.9,782.7 715.4,784.3 715.8,785.4 715.9,787.1 716.4,788.3 716.7,789.1 717.7,790.1 718.0,791.5 718.1,792.9 718.8,794.6 719.2,795.5 720.0,797.1 722.2,796.8" fill="none" stroke="#000" stroke-width="2.6" stroke-linejoin="round" stroke-linecap="butt" stroke-linejoin="miter"/>
<polyline points="560.2,791.4 560.4,789.3 560.6,787.2 560.9,785.1 561.1,783.0 561.3,780.9 561.5,778.8 561.8,776.7 562.0,774.6 562.2,772.5 562.4,770.4 562.6,768.3 562.9,766.2 563.1,764.1 563.3,762.0 563.5,760.0 563.7,757.9 563.9,755.8 564.1,753.8 564.3,751.7 564.5,749.7 564.7,747.6 565.0,745.6 565.2,743.5 565.4,741.5 565.6,739.4 565.8,737.4 566.0,735.3 566.2,733.3 566.4,731.2 566.7,729.1 566.9,727.1 567.2,725.0 567.4,723.0 567.7,720.9 567.9,718.8 568.2,716.8 568.4,714.7 568.7,712.7 568.9,710.6 569.2,708.5 569.4,706.5 569.7,704.4 569.9,702.4 570.2,700.3 570.5,698.3 570.8,696.3 571.0,694.3 571.3,692.4 571.6,690.4 571.9,688.4 572.2,686.4 572.4,684.4 572.7,682.4 573.0,680.4 573.3,678.5 573.5,676.5 573.8,674.5 574.1,672.5 574.4,670.5 574.7,668.5 575.0,666.5 575.3,664.4 575.6,662.4 575.9,660.4 576.1,658.4 576.4,656.4 576.7,654.4 577.0,652.3 577.3,650.3 577.6,648.3 577.9,646.3 578.2,644.2 578.6,642.2 578.9,640.1 579.2,638.1 579.5,636.0 579.8,633.9 580.2,631.9 580.5,629.8 580.8,627.8 581.1,625.7 581.5,623.7 581.8,621.6 582.0,619.5 582.3,617.4 582.5,615.3 582.8,613.2 583.1,611.1 583.4,609.0 583.7,607.0 584.1,605.0 584.5,603.0 584.9,601.0 585.2,598.9 585.6,596.9 586.0,594.9 586.4,592.9 586.8,590.9 587.2,588.9 587.7,586.9 588.1,584.9 588.6,582.9 589.0,580.9 589.5,578.8 590.0,576.8 590.4,574.8 590.9,572.8 591.4,570.8 591.9,568.8 592.4,566.7 593.0,564.6 593.6,562.5 594.1,560.3 594.7,558.2 595.3,556.1 595.9,554.0 596.5,551.9 597.1,549.8 597.7,547.8 598.3,545.7 598.9,543.6 599.5,541.6 600.1,539.5 600.7,537.4 601.3,535.4 602.0,533.3 602.7,531.3 603.4,529.3 604.2,527.3 605.0,525.3 605.8,523.3 606.5,521.3 607.3,519.3 608.1,517.3 608.9,515.3 609.8,513.3 610.9,511.4 612.2,509.4 613.4,507.5 614.7,505.6 616.1,503.7 617.6,502.0 619.5,500.5 621.4,499.2 623.5,498.2 625.5,497.4 627.5,497.0 629.4,497.1 631.1,497.9 632.7,499.1 634.2,500.4 635.8,501.7 637.6,502.8 639.5,503.5 641.5,504.0 643.6,504.5 645.6,505.2 647.5,506.1 649.2,507.3 650.9,508.5 652.6,509.8 654.1,511.3 655.5,513.0 656.9,514.8 658.1,516.8 659.4,518.7 660.7,520.6 661.9,522.5 663.0,524.5 664.0,526.5 665.0,528.5 666.0,530.4 667.0,532.4 667.9,534.4 668.7,536.4 669.3,538.5 669.8,540.5 670.1,542.6 670.5,544.7 671.0,546.7 671.5,548.8 672.1,550.8 672.8,552.9 673.6,554.9 674.4,557.0 675.1,559.0 676.0,561.1 676.8,563.1 677.7,565.1 678.6,567.1 679.4,569.0 680.3,571.0 681.2,573.0 682.0,575.1 682.6,577.1 683.2,579.2 683.8,581.4 684.4,583.5 685.0,585.6 685.6,587.8 686.1,589.9 686.7,592.0 687.3,594.1 687.9,596.2 688.5,598.4 689.1,600.5 689.6,602.6 690.2,604.8 690.8,606.9 691.3,608.9 691.8,610.9 692.2,612.9 692.7,614.9 693.1,616.9 693.5,618.8 693.9,620.8 694.3,622.7 694.7,624.7 695.2,626.7 695.6,628.6 696.0,630.6 696.4,632.7 696.8,634.7 697.1,636.8 697.5,638.8 697.9,640.9 698.3,642.9 698.7,645.0 699.1,647.0 699.5,649.1 699.8,651.1 700.2,653.1 700.6,655.2 701.0,657.2 701.3,659.1 701.7,661.1 702.0,663.1 702.4,665.1 702.7,667.0 703.1,669.0 703.4,671.0 703.8,673.0 704.1,674.9 704.5,677.0 704.8,679.0 705.2,681.2 705.5,683.3 705.9,685.4 706.2,687.5 706.6,689.7 706.9,691.8 707.3,693.9 707.6,696.0 708.0,698.2 708.3,700.3 708.7,702.3 709.0,704.3 709.4,706.3 709.7,708.4 710.1,710.4 710.5,712.4 710.8,714.4 711.2,716.4 711.6,718.4 711.9,720.5 712.3,722.5 712.6,724.5 713.0,726.5 713.3,728.6 713.6,730.6 713.9,732.7 714.2,734.7 714.5,736.8 714.8,738.9 715.1,740.9 715.5,743.0 715.8,745.0 716.1,747.1 716.4,749.2 716.7,751.2 717.0,753.3 717.3,755.3 717.6,757.4 717.9,759.5 718.1,761.6 718.4,763.7 718.7,765.8 719.0,767.8 719.2,769.9 719.5,772.0 719.8,774.1 720.0,776.2 720.3,778.3 720.6,780.4 720.8,782.5 721.1,784.5 721.4,786.6 721.7,788.7 721.9,790.8 722.2,792.9" fill="none" stroke="#ff0000" stroke-width="2.5" stroke-linejoin="round" stroke-linecap="butt"/>
<polyline points="931.0,797.6 931.4,796.6 931.7,795.5 932.3,794.2 933.0,792.8 933.4,791.2 933.6,790.2 934.1,788.5 934.7,787.2 934.9,786.4 935.4,784.7 935.6,784.1 936.2,782.5 936.8,781.4 937.1,779.8 937.4,778.6 938.2,777.1 939.3,778.3 941.1,778.6 942.4,779.4 943.0,777.8 943.0,776.2 943.4,775.2 943.5,773.7 943.3,772.3 943.7,771.1 943.8,770.0 944.3,768.9 944.1,767.3 944.8,765.6 944.8,764.5 944.9,763.5 945.2,762.2 945.2,760.6 945.5,759.5 945.8,758.2 946.1,756.5 946.3,755.7 946.1,754.6 946.3,752.3 947.1,751.3 948.0,751.8 948.5,749.4 949.4,750.2 949.6,744.3 950.6,743.5 951.0,744.0 952.1,744.6 952.4,743.6 952.6,742.5 953.2,742.9 953.8,740.4 954.0,739.1 954.9,735.0 955.1,738.3 955.7,733.2 956.0,729.4 956.8,731.3 957.0,735.2 957.1,737.5 957.7,738.4 958.1,736.3 958.6,738.6 959.1,737.4 959.1,733.0 959.5,731.3 960.0,729.3 960.5,731.7 960.6,729.8 961.3,726.8 962.0,725.0 962.0,724.8 962.3,727.1 962.7,724.6 963.6,721.6 963.8,717.1 964.5,715.9 964.4,715.4 964.9,718.8 964.7,717.4 965.4,712.3 965.2,709.0 965.8,708.7 965.8,708.7 966.0,708.9 966.4,706.4 966.7,704.5 966.9,704.4 967.8,702.6 967.7,701.4 967.9,700.1 968.3,698.4 968.8,697.2 969.4,696.3 969.2,694.5 969.5,693.4 970.1,692.4 970.1,691.6 971.5,691.9 972.7,694.1 973.3,696.1 973.5,690.8 973.8,693.1 974.0,688.3 974.3,687.3 974.9,687.1 975.1,687.0 975.0,684.6 975.1,685.0 975.9,682.4 976.0,681.1 976.5,677.1 977.0,678.0 977.9,676.2 978.3,676.4 979.0,673.2 979.7,670.7 979.8,671.2 980.1,668.3 980.1,667.7 980.1,666.9 980.8,664.9 980.9,664.3 980.9,664.7 980.8,660.5 981.3,661.1 981.7,662.6 981.6,664.4 981.8,664.0 982.4,664.4 982.5,667.1 982.7,668.0 983.0,671.0 983.2,671.6 983.2,672.0 984.0,675.5 984.1,675.2 984.4,676.5 985.3,678.8 985.6,678.5 986.0,681.8 986.5,678.1 987.6,684.7 988.5,682.7 989.6,679.7 990.6,688.3 990.5,685.2 990.8,687.7 990.7,686.2 991.2,690.9 991.2,693.5 991.8,688.3 991.6,692.3 991.8,691.7 992.0,696.8 992.2,693.3 992.6,696.0 992.5,695.4 992.8,694.0 993.2,697.0 993.5,695.4 993.8,693.4 994.7,698.9 994.6,692.6 995.2,685.1 995.2,685.0 995.7,683.1 995.9,688.1 996.5,688.7 996.7,682.2 997.5,682.3 997.8,681.7 998.2,680.7 998.0,683.6 998.2,679.0 998.5,690.5 998.6,692.8 998.6,693.0 998.7,691.0 998.5,695.1 998.3,697.7 998.9,685.2 998.8,689.1 998.9,697.2 999.1,700.1 999.1,698.8 999.3,690.5 999.8,701.0 1000.1,687.0 1000.8,689.7 1001.1,684.7 1001.3,681.9 1002.2,682.5 1002.2,695.3 1002.3,684.7 1002.1,688.8 1002.4,690.6 1002.0,694.0 1002.2,690.7 1002.1,700.7 1002.2,697.1 1002.4,697.7 1002.2,695.7 1002.4,705.9 1002.5,709.7 1002.6,702.6 1002.5,704.4 1002.5,703.7 1002.5,705.4 1002.6,704.1 1002.6,713.8 1002.8,709.5 1002.7,712.3 1002.6,721.6 1003.0,721.4 1002.6,720.1 1003.6,727.5 1004.3,722.5 1005.0,715.9 1005.4,729.1 1005.7,723.3 1006.8,728.7 1006.9,720.3 1007.3,726.2 1007.4,727.7 1007.4,718.3 1007.9,718.7 1008.1,714.0 1008.3,713.4 1008.8,717.7 1008.7,714.7 1008.9,711.4 1009.3,707.1 1009.2,710.7 1009.4,710.0 1009.5,703.0 1009.9,702.4 1009.8,702.6 1010.3,700.8 1010.2,707.1 1010.8,703.5 1010.4,693.2 1010.7,702.4 1010.9,697.0 1011.2,693.9 1011.6,694.7 1011.6,699.9 1011.8,692.0 1011.8,701.6 1011.9,701.2 1012.0,705.0 1012.1,705.5 1012.4,700.6 1012.8,709.6 1012.8,706.3 1013.2,704.4 1013.0,709.7 1013.2,708.2 1013.6,714.0 1013.9,712.5 1014.1,709.9 1014.3,716.9 1014.6,712.0 1015.0,721.9 1015.0,720.3 1015.2,724.0 1015.4,721.7 1015.8,723.9 1016.2,723.0 1016.0,722.8 1016.4,727.9 1016.4,725.6 1017.2,727.7 1017.2,735.6 1017.6,736.9 1017.3,730.5 1017.6,730.4 1018.3,736.1 1018.1,740.6 1018.3,742.9 1018.6,739.7 1018.8,740.2 1019.1,745.4 1019.5,740.3 1019.7,741.2 1020.4,736.2 1020.4,738.4 1020.6,732.3 1020.8,733.5 1021.6,734.2 1021.7,726.9 1022.0,733.4 1022.1,726.7 1022.3,724.8 1022.9,728.8 1023.4,719.3 1023.7,720.5 1023.7,721.5 1024.6,723.5 1024.7,714.4 1025.4,717.5 1025.8,720.1 1025.8,712.6 1026.1,716.2 1026.0,718.7 1026.1,717.6 1026.3,718.9 1026.2,716.1 1026.7,724.6 1026.4,728.1 1027.0,723.8 1026.6,721.6 1027.0,728.4 1026.9,724.8 1026.8,731.5 1027.0,727.6 1027.0,730.2 1027.3,738.4 1027.6,739.5 1027.5,734.4 1027.6,741.4 1027.7,736.0 1027.6,737.7 1027.9,745.7 1028.3,744.3 1028.0,748.4 1028.3,743.6 1029.2,744.5 1029.5,740.6 1029.6,740.9 1030.1,735.0 1030.3,737.7 1031.2,737.6 1031.0,732.6 1031.8,731.3 1031.9,734.6 1032.2,727.7 1032.4,729.4 1032.6,729.7 1032.8,728.4 1033.4,723.4 1033.5,727.4 1033.5,722.1 1033.8,724.2 1034.0,719.7 1034.2,716.8 1034.2,718.1 1034.3,718.5 1034.3,715.1 1034.5,716.4 1034.5,715.1 1034.5,708.6 1034.7,707.1 1034.4,705.6 1034.8,706.3 1034.5,708.0 1034.8,703.4 1034.7,704.9 1034.8,703.0 1034.6,701.7 1034.9,697.1 1034.7,694.7 1034.7,698.4 1034.8,693.9 1034.8,693.9 1034.9,692.7 1035.2,690.6 1035.4,690.8 1034.8,690.7 1035.4,685.9 1035.4,685.2 1035.5,685.7 1035.5,684.9 1035.7,681.4 1035.7,679.6 1035.6,678.9 1035.9,676.4 1035.6,676.4 1036.0,676.3 1035.8,673.2 1036.2,673.2 1036.3,673.7 1036.4,672.1 1036.5,668.2 1036.5,665.9 1036.4,665.8 1036.2,663.1 1036.9,663.5 1036.7,660.6 1037.0,662.7 1036.7,657.4 1037.0,657.2 1037.2,659.2 1037.4,655.0 1037.0,657.8 1037.3,654.1 1037.6,652.8 1037.6,651.2 1037.6,650.2 1038.9,648.6 1039.9,648.2 1041.6,650.4 1041.5,650.0 1041.6,648.2 1041.9,651.3 1042.3,656.2 1042.3,656.5 1042.8,653.5 1042.7,659.4 1043.3,657.8 1043.3,657.9 1043.7,659.6 1043.6,664.8 1044.2,659.8 1044.1,663.6 1044.1,662.8 1044.3,668.7 1044.6,663.7 1045.2,669.7 1044.9,674.1 1045.0,664.8 1045.6,666.9 1045.5,667.4 1045.7,667.0 1045.9,667.2 1045.8,660.2 1046.0,664.6 1045.9,657.4 1046.1,659.1 1046.7,653.5 1046.4,652.8 1046.5,653.8 1046.6,650.8 1046.8,657.0 1047.1,649.9 1046.9,648.9 1047.1,650.5 1047.4,649.9 1047.4,649.8 1047.7,648.1 1047.9,641.2 1048.1,646.9 1048.2,638.5 1048.1,643.6 1048.2,633.6 1048.9,642.5 1049.1,643.7 1049.5,639.6 1050.3,645.7 1050.6,639.9 1051.5,642.8 1051.5,643.1 1052.0,644.0 1052.5,644.3 1053.2,656.2 1054.0,649.4 1053.7,655.1 1054.3,654.4 1054.5,652.5 1054.5,648.6 1054.8,645.9 1055.2,643.8 1055.1,641.1 1055.5,641.1 1055.8,645.4 1056.3,637.7 1056.5,633.3 1056.3,634.9 1056.8,641.4 1057.1,631.7 1057.3,638.7 1057.4,631.8 1057.3,632.2 1057.9,633.0 1058.3,632.6 1058.2,625.7 1059.0,631.0 1059.6,627.7 1060.6,625.9 1061.3,632.6 1062.0,637.7 1062.5,636.0 1062.3,637.5 1062.9,635.9 1062.6,639.7 1063.2,639.5 1063.1,636.9 1063.5,643.3 1063.1,638.5 1063.8,640.9 1063.7,644.3 1063.7,642.9 1064.1,644.4 1064.5,654.3 1064.2,653.5 1064.5,650.3 1065.1,649.1 1065.8,648.6 1065.7,653.5 1066.8,643.8 1067.0,645.1 1067.3,647.6 1067.9,646.8 1068.9,640.9 1069.1,644.1 1069.5,643.5 1069.3,639.8 1069.5,640.7 1069.5,633.8 1069.6,631.8 1069.6,635.1 1069.4,635.3 1069.7,629.3 1069.7,632.0 1069.9,631.5 1069.8,629.5 1069.5,627.7 1070.1,626.6 1070.2,628.8 1069.8,625.0 1070.0,626.2 1070.0,632.6 1070.2,629.8 1070.5,634.6 1070.7,633.2 1070.3,636.5 1070.6,635.2 1071.0,640.9 1070.9,640.2 1070.9,644.1 1070.9,641.6 1071.1,640.9 1071.2,647.1 1071.2,643.4 1071.3,649.6 1071.1,647.8 1071.2,648.6 1071.4,649.8 1071.4,652.8 1071.7,651.6 1072.0,656.7 1072.0,659.0 1071.7,661.4 1072.1,659.0 1071.7,663.3 1072.3,659.0 1072.2,662.2 1073.1,667.0 1073.7,664.8 1074.7,664.8 1075.5,669.4 1076.3,670.7 1076.9,668.1 1077.8,672.4 1078.3,674.1 1079.0,673.7 1079.3,674.8 1080.2,676.1 1080.7,677.8 1081.6,678.4 1081.9,680.4 1081.6,680.9 1081.9,682.4 1082.4,684.2 1082.6,684.9 1082.6,686.3 1082.6,688.3 1082.9,689.5 1082.8,690.1 1083.2,692.2 1083.0,692.9 1083.6,693.9 1083.6,696.1 1083.6,696.9 1083.8,698.0 1083.9,699.9 1084.0,700.9 1084.1,701.9 1084.4,703.6 1085.3,705.1 1085.3,706.3 1085.9,707.7 1086.4,708.4 1086.5,710.1 1087.2,711.4 1087.4,712.3 1087.9,713.9 1088.1,715.2 1088.2,716.6 1088.6,718.1 1089.4,718.8 1089.7,720.3 1089.7,721.1 1090.0,722.5 1090.5,724.3 1090.7,725.6 1090.9,726.5 1091.1,727.7 1091.1,729.0 1091.3,730.3 1091.7,731.7 1091.8,732.7 1092.1,734.3 1092.7,735.5 1092.8,736.7 1093.2,738.0 1093.4,739.7 1093.6,741.2 1093.7,741.7 1094.0,743.5 1094.3,744.8 1094.5,745.5 1094.4,747.0 1095.0,748.3 1095.4,750.3 1095.4,751.1 1095.6,752.5 1095.7,753.9 1096.2,755.3 1096.4,756.2 1096.8,757.9 1096.5,759.2 1097.2,760.8 1097.2,761.6 1097.4,763.5 1097.9,764.7 1097.7,766.0 1098.2,767.0 1098.2,768.6 1098.3,769.8 1098.4,770.7 1098.7,772.3 1099.1,773.4 1098.9,775.5 1099.2,776.5 1099.6,777.6 1099.3,779.4 1099.7,780.1 1100.0,781.9 1100.0,783.2 1100.1,784.3 1100.6,785.3 1100.7,786.7 1100.8,788.4 1100.8,789.6 1100.7,790.3 1100.9,791.6 1101.0,793.0 1101.3,794.3 1101.5,796.4 1102.0,797.3 1102.1,798.6 1102.4,800.0 1102.4,801.8 1102.8,802.9 1103.0,803.8 1103.1,805.3" fill="none" stroke="#000" stroke-width="2.6" stroke-linejoin="round" stroke-linecap="butt" stroke-linejoin="miter"/>
<polyline points="931.0,791.4 931.3,789.3 931.6,787.2 931.8,785.1 932.1,783.0 932.4,780.9 932.7,778.8 932.9,776.8 933.2,774.7 933.5,772.6 933.8,770.5 934.1,768.4 934.3,766.3 934.6,764.2 934.9,762.1 935.1,760.0 935.3,758.0 935.6,755.9 935.8,753.9 936.0,751.8 936.2,749.8 936.4,747.7 936.7,745.6 936.9,743.6 937.1,741.5 937.3,739.5 937.5,737.4 937.7,735.4 938.0,733.3 938.2,731.2 938.4,729.2 938.6,727.1 938.8,725.1 939.1,723.0 939.3,721.0 939.5,718.9 939.7,716.9 940.0,714.8 940.2,712.8 940.5,710.8 940.7,708.7 941.0,706.7 941.2,704.7 941.4,702.6 941.7,700.6 941.9,698.6 942.2,696.6 942.4,694.5 942.6,692.5 942.9,690.5 943.1,688.4 943.4,686.4 943.6,684.4 943.9,682.3 944.1,680.3 944.3,678.3 944.6,676.2 944.8,674.2 945.1,672.2 945.3,670.1 945.6,668.1 945.8,666.1 946.1,664.0 946.3,662.0 946.6,660.0 946.8,658.0 947.1,655.9 947.3,653.9 947.6,651.9 947.8,649.8 948.1,647.8 948.3,645.8 948.6,643.7 948.8,641.7 949.1,639.6 949.4,637.6 949.7,635.5 950.0,633.5 950.3,631.4 950.6,629.4 950.9,627.3 951.3,625.3 951.6,623.2 951.9,621.2 952.2,619.1 952.5,617.1 952.8,615.0 953.1,613.0 953.4,610.9 953.7,608.8 954.0,606.8 954.3,604.7 954.6,602.7 954.9,600.6 955.2,598.5 955.5,596.5 955.9,594.4 956.2,592.4 956.5,590.3 956.8,588.2 957.1,586.2 957.4,584.1 957.7,582.1 958.0,580.0 958.3,578.0 958.6,576.0 959.0,574.0 959.3,572.0 959.6,570.0 959.9,568.0 960.2,566.0 960.5,564.0 960.9,562.0 961.2,560.0 961.5,558.0 961.8,556.0 962.1,554.0 962.4,552.0 962.8,550.0 963.1,548.0 963.4,546.0 963.8,543.9 964.3,541.8 964.7,539.7 965.1,537.6 965.5,535.5 966.0,533.4 966.4,531.3 966.8,529.2 967.2,527.1 967.7,525.0 968.1,522.9 968.6,520.8 969.1,518.7 969.6,516.6 970.1,514.5 970.6,512.4 971.0,510.3 971.5,508.2 972.0,506.1 972.5,504.0 973.0,501.9 973.5,499.8 974.1,497.7 974.6,495.6 975.2,493.5 975.7,491.4 976.3,489.3 976.8,487.1 977.4,485.0 977.9,482.9 978.5,480.8 979.1,478.7 979.7,476.6 980.3,474.6 981.0,472.5 981.7,470.4 982.4,468.4 983.0,466.3 983.7,464.3 984.4,462.2 985.1,460.2 985.9,458.2 986.7,456.2 987.5,454.2 988.4,452.3 989.2,450.4 990.1,448.5 991.0,446.6 991.9,444.6 992.8,442.7 993.7,440.7 994.7,438.7 995.7,436.7 996.7,434.8 997.7,432.8 998.7,430.8 999.7,428.9 1000.8,427.1 1001.9,425.3 1003.0,423.5 1004.1,421.7 1005.2,419.9 1006.2,418.1 1007.2,416.2 1007.9,414.2 1008.6,412.1 1009.1,410.0 1009.7,407.9 1010.3,405.8 1010.9,403.6 1011.4,401.5 1012.0,399.4 1012.6,397.2 1013.1,395.0 1013.7,392.8 1014.2,390.6 1014.8,388.4 1015.5,386.3 1016.6,384.4 1018.1,382.8 1020.1,381.6 1022.2,380.6 1024.4,379.8 1026.5,378.9 1028.6,378.0 1030.6,377.5 1032.4,377.8 1033.9,378.9 1035.0,380.6 1035.9,382.3 1036.7,384.2 1037.5,386.1 1038.3,388.0 1039.1,389.8 1039.9,391.8 1040.8,393.7 1041.8,395.7 1042.8,397.7 1043.8,399.6 1044.8,401.6 1045.8,403.6 1046.6,405.6 1047.4,407.7 1048.1,409.7 1048.7,411.8 1049.3,413.9 1050.0,415.9 1050.7,418.0 1051.4,420.0 1052.1,422.1 1052.9,424.2 1053.7,426.2 1054.4,428.3 1055.1,430.3 1055.8,432.4 1056.4,434.6 1057.0,436.7 1057.6,438.8 1058.1,440.9 1058.7,443.1 1059.3,445.2 1059.8,447.3 1060.3,449.3 1060.7,451.4 1061.2,453.5 1061.6,455.5 1062.0,457.6 1062.4,459.6 1062.9,461.7 1063.3,463.8 1063.7,465.8 1064.0,467.9 1064.4,470.0 1064.8,472.1 1065.1,474.2 1065.5,476.3 1065.8,478.5 1066.2,480.6 1066.5,482.7 1066.9,484.8 1067.2,486.9 1067.6,489.0 1067.9,491.2 1068.2,493.3 1068.5,495.5 1068.8,497.6 1069.1,499.8 1069.5,502.0 1069.8,504.1 1070.1,506.3 1070.4,508.4 1070.7,510.6 1071.0,512.7 1071.3,514.8 1071.5,516.9 1071.8,519.0 1072.1,521.1 1072.4,523.2 1072.7,525.3 1073.0,527.4 1073.2,529.5 1073.5,531.6 1073.8,533.7 1074.1,535.8 1074.4,537.9 1074.6,540.0 1074.9,542.1 1075.2,544.2 1075.5,546.4 1075.8,548.5 1076.1,550.6 1076.3,552.7 1076.6,554.8 1076.9,556.9 1077.1,559.0 1077.4,561.1 1077.6,563.2 1077.8,565.3 1078.1,567.4 1078.3,569.5 1078.6,571.6 1078.8,573.7 1079.0,575.8 1079.3,577.9 1079.5,580.0 1079.8,582.0 1080.0,584.1 1080.3,586.1 1080.6,588.1 1080.8,590.2 1081.1,592.2 1081.4,594.2 1081.6,596.3 1081.9,598.3 1082.2,600.3 1082.5,602.3 1082.7,604.4 1083.0,606.4 1083.3,608.4 1083.5,610.5 1083.8,612.5 1084.1,614.5 1084.3,616.6 1084.6,618.6 1084.8,620.6 1085.1,622.7 1085.3,624.7 1085.6,626.7 1085.8,628.8 1086.1,630.8 1086.3,632.8 1086.5,634.9 1086.8,636.9 1087.0,638.9 1087.3,640.9 1087.5,643.0 1087.7,645.0 1088.0,647.0 1088.2,649.1 1088.5,651.1 1088.7,653.1 1089.0,655.2 1089.2,657.2 1089.4,659.2 1089.7,661.3 1089.9,663.3 1090.2,665.3 1090.4,667.3 1090.7,669.4 1090.9,671.4 1091.1,673.4 1091.4,675.4 1091.6,677.5 1091.9,679.5 1092.1,681.5 1092.3,683.5 1092.6,685.6 1092.8,687.6 1093.1,689.6 1093.3,691.6 1093.6,693.7 1093.8,695.7 1094.0,697.7 1094.3,699.8 1094.5,701.8 1094.8,703.8 1095.0,705.9 1095.3,707.9 1095.5,709.9 1095.8,712.0 1096.0,714.0 1096.3,716.0 1096.5,718.0 1096.8,720.1 1097.0,722.1 1097.3,724.1 1097.5,726.2 1097.8,728.2 1098.0,730.2 1098.3,732.3 1098.5,734.3 1098.7,736.3 1099.0,738.4 1099.2,740.4 1099.5,742.4 1099.7,744.5 1100.0,746.5 1100.2,748.5 1100.4,750.6 1100.7,752.6 1100.9,754.6 1101.2,756.6 1101.4,758.7 1101.6,760.7 1101.9,762.7 1102.1,764.8 1102.4,766.8 1102.6,768.8 1102.9,770.9 1103.1,772.9 1103.3,774.9 1103.5,776.9 1103.7,779.0 1103.9,781.0 1104.1,783.0 1104.3,785.0 1104.5,787.1 1104.6,789.1 1104.8,791.1 1105.0,793.1 1105.2,795.2 1105.4,797.2 1105.6,799.2 1105.8,801.2 1106.0,803.3 1106.2,805.3" fill="none" stroke="#ff0000" stroke-width="2.5" stroke-linejoin="round" stroke-linecap="butt"/>
<line x1="130.80" y1="30.10" x2="130.80" y2="808.50" stroke="#000" stroke-width="3.0"/>
<line x1="130.80" y1="807.00" x2="1190.00" y2="807.00" stroke="#000" stroke-width="3.0"/>
<line x1="130.80" y1="31.60" x2="1190.00" y2="31.60" stroke="#000" stroke-width="3.0"/>
<line x1="1190.00" y1="30.10" x2="1190.00" y2="808.50" stroke="#ff0000" stroke-width="3.0"/>
<line x1="130.80" y1="677.77" x2="139.10" y2="677.77" stroke="#000" stroke-width="3.0"/>
<line x1="1181.20" y1="677.77" x2="1190.00" y2="677.77" stroke="#ff0000" stroke-width="3.0"/>
<line x1="130.80" y1="548.53" x2="147.80" y2="548.53" stroke="#000" stroke-width="3.0"/>
<line x1="1172.50" y1="548.53" x2="1190.00" y2="548.53" stroke="#ff0000" stroke-width="3.0"/>
<line x1="130.80" y1="419.30" x2="139.10" y2="419.30" stroke="#000" stroke-width="3.0"/>
<line x1="1181.20" y1="419.30" x2="1190.00" y2="419.30" stroke="#ff0000" stroke-width="3.0"/>
<line x1="130.80" y1="290.07" x2="147.80" y2="290.07" stroke="#000" stroke-width="3.0"/>
<line x1="1172.50" y1="290.07" x2="1190.00" y2="290.07" stroke="#ff0000" stroke-width="3.0"/>
<line x1="130.80" y1="160.83" x2="139.10" y2="160.83" stroke="#000" stroke-width="3.0"/>
<line x1="1181.20" y1="160.83" x2="1190.00" y2="160.83" stroke="#ff0000" stroke-width="3.0"/>
<line x1="1172.50" y1="31.60" x2="1190.00" y2="31.60" stroke="#ff0000" stroke-width="3.0"/>
<line x1="1172.50" y1="807.00" x2="1190.00" y2="807.00" stroke="#ff0000" stroke-width="3.0"/>
<line x1="219.07" y1="807.00" x2="219.07" y2="798.70" stroke="#000" stroke-width="3.0"/>
<line x1="307.33" y1="807.00" x2="307.33" y2="790.00" stroke="#000" stroke-width="3.0"/>
<line x1="395.60" y1="807.00" x2="395.60" y2="798.70" stroke="#000" stroke-width="3.0"/>
<line x1="483.87" y1="807.00" x2="483.87" y2="790.00" stroke="#000" stroke-width="3.0"/>
<line x1="572.13" y1="807.00" x2="572.13" y2="798.70" stroke="#000" stroke-width="3.0"/>
<line x1="660.40" y1="807.00" x2="660.40" y2="790.00" stroke="#000" stroke-width="3.0"/>
<line x1="748.67" y1="807.00" x2="748.67" y2="798.70" stroke="#000" stroke-width="3.0"/>
<line x1="836.93" y1="807.00" x2="836.93" y2="790.00" stroke="#000" stroke-width="3.0"/>
<line x1="925.20" y1="807.00" x2="925.20" y2="798.70" stroke="#000" stroke-width="3.0"/>
<line x1="1013.47" y1="807.00" x2="1013.47" y2="790.00" stroke="#000" stroke-width="3.0"/>
<line x1="1101.73" y1="807.00" x2="1101.73" y2="798.70" stroke="#000" stroke-width="3.0"/>
<text x="113.3" y="819.6" font-family='"Liberation Serif", serif' font-size="46" font-weight="normal" fill="#000" text-anchor="end" stroke="#ffffff" stroke-width="0.35" stroke-linejoin="round">0.0</text>
<text x="113.3" y="561.1" font-family='"Liberation Serif", serif' font-size="46" font-weight="normal" fill="#000" text-anchor="end" stroke="#ffffff" stroke-width="0.35" stroke-linejoin="round">0.2</text>
<text x="113.3" y="302.7" font-family='"Liberation Serif", serif' font-size="46" font-weight="normal" fill="#000" text-anchor="end" stroke="#ffffff" stroke-width="0.35" stroke-linejoin="round">0.4</text>
<text x="113.3" y="44.2" font-family='"Liberation Serif", serif' font-size="46" font-weight="normal" fill="#000" text-anchor="end" stroke="#ffffff" stroke-width="0.35" stroke-linejoin="round">0.6</text>
<text x="1205.8" y="819.5" font-family='"Liberation Serif", serif' font-size="46" font-weight="normal" fill="#ff0000" text-anchor="start" stroke="#ffffff" stroke-width="0.35" stroke-linejoin="round">0</text>
<text x="1205.8" y="561.0" font-family='"Liberation Serif", serif' font-size="46" font-weight="normal" fill="#ff0000" text-anchor="start" stroke="#ffffff" stroke-width="0.35" stroke-linejoin="round">1</text>
<text x="1205.8" y="302.6" font-family='"Liberation Serif", serif' font-size="46" font-weight="normal" fill="#ff0000" text-anchor="start" stroke="#ffffff" stroke-width="0.35" stroke-linejoin="round">2</text>
<text x="1205.8" y="44.1" font-family='"Liberation Serif", serif' font-size="46" font-weight="normal" fill="#ff0000" text-anchor="start" stroke="#ffffff" stroke-width="0.35" stroke-linejoin="round">3</text>
<text x="130.8" y="858.0" font-family='"Liberation Serif", serif' font-size="46" font-weight="normal" fill="#000" text-anchor="middle" stroke="#ffffff" stroke-width="0.35" stroke-linejoin="round">18:00</text>
<text x="307.3" y="858.0" font-family='"Liberation Serif", serif' font-size="46" font-weight="normal" fill="#000" text-anchor="middle" stroke="#ffffff" stroke-width="0.35" stroke-linejoin="round">00:00</text>
<text x="483.9" y="858.0" font-family='"Liberation Serif", serif' font-size="46" font-weight="normal" fill="#000" text-anchor="middle" stroke="#ffffff" stroke-width="0.35" stroke-linejoin="round">06:00</text>
<text x="660.4" y="858.0" font-family='"Liberation Serif", serif' font-size="46" font-weight="normal" fill="#000" text-anchor="middle" stroke="#ffffff" stroke-width="0.35" stroke-linejoin="round">12:00</text>
<text x="836.9" y="858.0" font-family='"Liberation Serif", serif' font-size="46" font-weight="normal" fill="#000" text-anchor="middle" stroke="#ffffff" stroke-width="0.35" stroke-linejoin="round">18:00</text>
<text x="1013.5" y="858.0" font-family='"Liberation Serif", serif' font-size="46" font-weight="normal" fill="#000" text-anchor="middle" stroke="#ffffff" stroke-width="0.35" stroke-linejoin="round">00:00</text>
<text x="1190.0" y="858.0" font-family='"Liberation Serif", serif' font-size="46" font-weight="normal" fill="#000" text-anchor="middle" stroke="#ffffff" stroke-width="0.35" stroke-linejoin="round">06:00</text>
<text x="79.0" y="907.5" font-family='"Liberation Serif", serif' font-size="46" font-weight="normal" fill="#000" text-anchor="start" stroke="#ffffff" stroke-width="0.35" stroke-linejoin="round">24 Dec</text>
<text x="257.0" y="907.5" font-family='"Liberation Serif", serif' font-size="46" font-weight="normal" fill="#000" text-anchor="start" stroke="#ffffff" stroke-width="0.35" stroke-linejoin="round">25 Dec</text>
<text x="964.5" y="913.0" font-family='"Liberation Serif", serif' font-size="46" font-weight="normal" fill="#000" text-anchor="start" stroke="#ffffff" stroke-width="0.35" stroke-linejoin="round">26 Dec</text>
<text x="511.5" y="954.0" font-family='"Liberation Serif", serif' font-size="46" font-weight="normal" fill="#000" text-anchor="start" stroke="#ffffff" stroke-width="0.35" stroke-linejoin="round">Time and Date</text>
<line x1="513.30" y1="127.00" x2="619.80" y2="127.00" stroke="#000" stroke-width="3"/>
<line x1="513.30" y1="201.00" x2="619.80" y2="201.00" stroke="#ff0000" stroke-width="3"/>
<text x="630.0" y="142.8" font-family='"Liberation Serif", serif' font-size="46.3" font-weight="normal" fill="#000" text-anchor="start" stroke="#ffffff" stroke-width="0.35" stroke-linejoin="round">Significant Wave Height</text>
<text x="630.0" y="215.1" font-family='"Liberation Serif", serif' font-size="46" font-weight="normal" fill="#000" text-anchor="start" stroke="#ffffff" stroke-width="0.35" stroke-linejoin="round">Water Depth</text>
<text x="37.0" y="391.0" font-family='"Liberation Serif", serif' font-size="46" font-weight="normal" fill="#000" text-anchor="middle" transform="rotate(-90 37.0 391.0)" stroke="#ffffff" stroke-width="0.35" stroke-linejoin="round">Significant Wave Height (m)</text>
<text x="7.2" y="32.6" font-family='"Liberation Sans", sans-serif' font-size="43.8" font-weight="bold" fill="#000" text-anchor="start">A</text>
<line x1="1360.4" y1="548.53" x2="2377.0" y2="548.53" stroke="#cdcdcd" stroke-width="1.8" stroke-dasharray="6 6"/>
<line x1="1360.4" y1="290.07" x2="2377.0" y2="290.07" stroke="#cdcdcd" stroke-width="1.8" stroke-dasharray="6 6"/>
<text x="1400.0" y="84.3" font-family='"Liberation Serif", serif' font-size="42.5" font-weight="normal" fill="#000" text-anchor="start" stroke="#ffffff" stroke-width="0.35" stroke-linejoin="round">Station S7</text>
<polyline points="1379.2,708.0 1379.7,700.0 1380.2,687.6 1380.7,668.0 1381.2,676.0 1381.5,649.9 1382.2,630.0 1382.7,622.0 1383.3,628.6 1383.8,632.0 1384.2,600.0 1384.7,616.7 1385.2,560.0 1385.8,606.0 1386.4,539.2 1387.0,568.0 1387.5,505.0 1388.2,539.3 1389.2,530.0 1389.8,470.0 1390.4,515.2 1391.5,504.7 1392.2,500.0 1392.8,430.0 1393.4,479.9 1394.1,419.1 1395.2,398.0 1395.8,452.0 1396.5,402.4 1397.5,420.0 1398.0,368.0 1398.3,363.0 1398.8,293.0 1399.3,338.4 1400.4,285.8 1401.4,336.6 1402.2,335.0 1402.8,250.0 1403.2,330.1 1404.2,261.6 1405.5,370.5 1406.2,258.0 1406.7,394.0 1407.4,262.4 1408.3,299.5 1409.6,246.1 1410.0,260.0 1410.5,233.0 1411.1,252.7 1412.5,212.5 1413.0,250.0 1413.5,174.0 1414.0,253.9 1415.3,207.0 1415.8,309.0 1416.6,257.7 1417.6,297.0 1418.5,308.0 1419.0,290.0 1419.6,307.4 1420.6,296.4 1421.9,308.4 1422.7,268.0 1423.0,317.0 1423.5,232.0 1424.4,308.2 1425.2,315.7 1426.2,276.0 1426.7,347.0 1427.4,289.3 1428.4,327.8 1429.2,294.8 1430.2,285.0 1431.3,320.8 1432.3,340.0 1432.8,283.0 1433.4,345.5 1434.4,339.2 1435.5,383.0 1436.0,300.0 1436.5,358.3 1437.7,335.8 1438.5,318.0 1439.0,263.0 1439.6,304.8 1440.3,274.5 1441.7,322.8 1442.7,313.2 1443.7,317.7 1444.9,281.9 1445.6,329.1 1446.2,343.0 1446.8,271.0 1447.3,335.4 1448.2,280.2 1449.4,291.4 1450.3,336.5 1451.3,288.7 1452.1,324.2 1452.5,344.0 1453.0,286.0 1453.5,332.7 1454.5,299.6 1455.9,296.9 1457.3,328.9 1458.4,293.4 1459.6,315.6 1460.2,264.0 1460.7,343.0 1461.3,289.7 1461.8,369.0 1462.2,280.0 1462.7,359.2 1463.8,307.0 1464.7,356.6 1466.0,348.1 1466.2,363.0 1466.8,266.0 1467.2,339.3 1468.5,281.3 1469.5,344.5 1470.9,285.1 1471.7,336.0 1472.5,351.0 1473.0,283.0 1473.6,349.8 1474.3,292.6 1475.5,289.0 1476.0,381.0 1476.6,320.7 1477.9,373.3 1478.8,348.1 1479.5,406.0 1480.0,350.0 1480.4,403.2 1481.0,374.9 1482.2,406.6 1482.9,379.8 1483.5,375.8 1484.4,411.2 1484.8,415.0 1485.2,381.0 1486.0,413.2 1487.3,398.0 1487.8,441.0 1488.2,390.0 1488.7,434.9 1489.6,384.9 1490.6,417.7 1491.7,369.8 1492.5,343.0 1493.0,440.0 1493.7,357.3 1494.4,435.0 1495.7,363.7 1496.7,435.1 1497.2,364.0 1497.7,460.0 1498.4,373.6 1499.8,370.0 1500.2,460.0 1500.7,397.3 1501.4,438.0 1502.6,372.9 1504.0,400.7 1504.8,366.0 1505.2,400.0 1505.9,379.0 1507.0,381.6 1507.8,399.4 1508.4,379.2 1509.7,404.8 1510.4,373.7 1511.2,376.1 1512.0,414.2 1512.5,421.0 1513.0,372.0 1513.5,409.9 1514.4,387.5 1515.5,407.0 1516.2,390.6 1517.4,409.4 1518.0,385.0 1518.5,410.0 1519.3,398.7 1520.5,419.0 1521.4,399.1 1522.3,403.0 1523.5,412.7 1524.6,411.1 1525.7,438.4 1526.5,455.0 1527.0,415.0 1527.8,447.7 1528.6,434.2 1529.4,427.4 1530.6,463.8 1531.4,471.3 1532.2,472.4 1532.9,476.6 1534.2,441.4 1535.1,482.3 1535.8,494.0 1536.2,443.0 1537.1,498.0 1537.7,460.2 1538.8,519.0 1539.2,465.0 1540.0,501.5 1541.4,476.6 1542.7,505.0 1543.5,479.0 1544.0,508.0 1544.3,489.2 1545.0,526.8 1546.1,518.2 1546.5,562.0 1547.0,511.0 1547.4,546.8 1548.4,527.1 1549.2,555.5 1549.8,528.0 1550.2,557.0 1550.8,536.8 1551.9,565.0 1552.7,549.8 1554.2,559.0 1554.8,596.0 1555.5,575.1 1556.4,575.0 1557.1,581.7 1557.8,600.0 1558.2,580.0 1558.9,602.0 1560.0,591.2 1561.4,625.6 1561.8,570.0 1562.2,638.0 1562.7,585.4 1563.9,629.3 1564.8,615.7 1565.0,640.0 1565.5,620.0 1566.0,637.8 1566.9,630.6 1567.6,647.0 1568.7,641.5 1569.8,657.0 1570.2,645.0 1570.7,660.6 1572.0,656.0 1573.1,678.8 1574.3,666.0 1574.8,694.0 1575.3,676.2 1576.2,695.5 1577.1,681.7 1578.2,687.7 1578.9,691.3 1580.0,707.3 1580.5,710.0 1581.0,700.0 1581.4,708.5 1582.4,712.0 1583.2,706.4 1584.3,715.1 1585.2,711.4 1586.3,720.0 1586.7,714.0 1587.2,722.0 1587.6,716.7 1588.4,724.4 1589.5,720.5 1590.5,729.8 1591.2,724.2 1592.4,732.9 1593.5,730.0 1594.3,740.0 1594.8,731.0 1595.5,740.0 1596.5,735.5 1597.6,741.9 1598.7,738.0 1599.7,739.6 1600.5,745.0 1601.0,741.0 1601.6,744.2 1602.5,740.9 1603.2,742.9 1603.9,741.1 1605.4,741.0" fill="none" stroke="#000" stroke-width="2.5" stroke-linejoin="round" stroke-linecap="butt" stroke-linejoin="miter"/>
<polyline points="1377.0,788.3 1377.1,786.3 1377.3,784.2 1377.4,782.2 1377.5,780.2 1377.6,778.2 1377.8,776.1 1377.9,774.1 1378.0,772.1 1378.1,770.1 1378.3,768.0 1378.4,766.0 1378.5,764.0 1378.6,762.0 1378.8,759.9 1378.9,757.9 1379.0,755.9 1379.1,753.9 1379.3,751.8 1379.4,749.8 1379.6,747.8 1379.7,745.7 1379.9,743.7 1380.0,741.7 1380.2,739.6 1380.3,737.6 1380.5,735.6 1380.7,733.5 1380.8,731.5 1381.0,729.5 1381.1,727.5 1381.3,725.4 1381.5,723.4 1381.6,721.4 1381.8,719.3 1381.9,717.3 1382.1,715.3 1382.2,713.2 1382.4,711.2 1382.5,709.2 1382.7,707.1 1382.8,705.1 1382.9,703.1 1383.0,701.0 1383.2,699.0 1383.3,697.0 1383.4,694.9 1383.5,692.9 1383.7,690.9 1383.8,688.9 1383.9,686.8 1384.0,684.8 1384.2,682.8 1384.3,680.7 1384.4,678.7 1384.5,676.7 1384.7,674.6 1384.8,672.6 1384.9,670.6 1385.1,668.6 1385.2,666.6 1385.3,664.5 1385.5,662.5 1385.6,660.5 1385.7,658.5 1385.8,656.5 1386.0,654.5 1386.1,652.5 1386.2,650.5 1386.4,648.4 1386.5,646.4 1386.6,644.4 1386.8,642.4 1386.9,640.4 1387.0,638.4 1387.1,636.4 1387.3,634.4 1387.4,632.3 1387.5,630.3 1387.7,628.3 1387.8,626.3 1388.0,624.3 1388.1,622.2 1388.3,620.2 1388.5,618.2 1388.6,616.1 1388.8,614.1 1388.9,612.1 1389.1,610.0 1389.3,608.0 1389.4,606.0 1389.6,604.0 1389.8,601.9 1389.9,599.9 1390.1,597.9 1390.2,595.8 1390.4,593.8 1390.6,591.8 1390.7,589.7 1390.9,587.7 1391.0,585.6 1391.1,583.6 1391.3,581.5 1391.4,579.5 1391.5,577.4 1391.6,575.4 1391.7,573.3 1391.9,571.3 1392.0,569.2 1392.1,567.2 1392.2,565.1 1392.3,563.1 1392.5,561.0 1392.6,558.9 1392.7,556.9 1392.8,554.8 1392.9,552.8 1393.0,550.7 1393.2,548.7 1393.3,546.6 1393.4,544.6 1393.5,542.5 1393.6,540.5 1393.8,538.4 1393.9,536.4 1394.0,534.3 1394.2,532.3 1394.4,530.2 1394.6,528.2 1394.8,526.2 1395.0,524.2 1395.2,522.1 1395.4,520.1 1395.6,518.1 1395.8,516.0 1396.0,514.0 1396.2,512.0 1396.4,510.0 1396.6,507.9 1396.8,505.9 1397.0,503.9 1397.2,501.8 1397.4,499.8 1397.6,497.8 1397.9,495.8 1398.1,493.7 1398.3,491.7 1398.5,489.7 1398.7,487.6 1398.9,485.6 1399.1,483.6 1399.3,481.5 1399.5,479.5 1399.7,477.5 1399.9,475.5 1400.1,473.4 1400.3,471.4 1400.5,469.4 1400.7,467.3 1400.9,465.3 1401.1,463.3 1401.3,461.3 1401.5,459.2 1401.7,457.2 1401.9,455.2 1402.1,453.1 1402.4,451.1 1402.6,449.0 1402.8,447.0 1403.0,444.9 1403.2,442.9 1403.5,440.9 1403.7,438.8 1403.9,436.8 1404.1,434.7 1404.4,432.7 1404.6,430.6 1404.8,428.6 1405.0,426.6 1405.2,424.5 1405.5,422.5 1405.7,420.4 1405.9,418.4 1406.1,416.3 1406.4,414.3 1406.6,412.3 1406.8,410.2 1407.0,408.2 1407.2,406.1 1407.5,404.1 1407.7,402.0 1407.9,400.0 1408.1,397.9 1408.3,395.9 1408.5,393.8 1408.7,391.8 1408.9,389.7 1409.1,387.7 1409.2,385.6 1409.4,383.5 1409.6,381.5 1409.8,379.4 1410.0,377.4 1410.2,375.3 1410.4,373.2 1410.6,371.2 1410.8,369.1 1411.0,367.1 1411.2,365.0 1411.4,363.0 1411.5,360.9 1411.7,358.8 1411.9,356.8 1412.1,354.7 1412.3,352.7 1412.5,350.6 1412.8,348.5 1413.1,346.5 1413.4,344.4 1413.7,342.4 1414.0,340.3 1414.3,338.3 1414.6,336.2 1414.9,334.1 1415.2,332.1 1415.5,330.0 1415.7,328.0 1416.0,325.9 1416.3,323.9 1416.6,321.8 1416.9,319.7 1417.2,317.7 1417.5,315.6 1417.8,313.6 1418.1,311.5 1418.4,309.5 1418.7,307.4 1419.0,305.3 1419.4,303.2 1419.7,301.1 1420.0,299.0 1420.3,296.9 1420.7,294.8 1421.0,292.7 1421.3,290.6 1421.7,288.5 1422.0,286.4 1422.3,284.3 1422.6,282.2 1423.0,280.1 1423.3,278.0 1423.6,276.0 1423.9,274.0 1424.2,272.0 1424.5,270.0 1424.8,268.0 1425.1,266.0 1425.4,264.0 1425.6,262.0 1425.9,260.0 1426.2,258.0 1426.5,256.0 1426.8,254.0 1427.1,252.0 1427.4,250.0 1427.7,248.0 1428.1,246.0 1428.4,243.9 1428.8,241.9 1429.2,239.8 1429.6,237.8 1430.0,235.7 1430.4,233.7 1430.8,231.6 1431.3,229.6 1431.7,227.5 1432.1,225.5 1432.5,223.4 1432.9,221.4 1433.3,219.3 1433.7,217.3 1434.1,215.2 1434.6,213.1 1435.1,211.1 1435.6,209.0 1436.2,207.0 1436.7,204.9 1437.2,202.8 1437.7,200.8 1438.2,198.7 1438.8,196.7 1439.3,194.6 1439.8,192.6 1440.3,190.5 1440.9,188.5 1441.4,186.6 1442.0,184.6 1442.6,182.6 1443.1,180.7 1443.7,178.7 1444.2,176.8 1444.8,174.8 1445.4,172.8 1446.0,170.9 1446.6,169.0 1447.3,167.1 1448.0,165.2 1448.8,163.3 1449.6,161.5 1450.4,159.7 1451.1,157.8 1451.9,156.0 1452.7,154.1 1453.5,152.3 1454.3,150.5 1455.3,148.7 1456.3,147.0 1457.3,145.2 1458.3,143.5 1459.4,141.8 1460.4,140.1 1461.4,138.3 1462.4,136.6 1463.4,134.7 1464.2,132.7 1465.0,130.7 1465.8,128.6 1466.5,126.5 1467.3,124.3 1468.1,122.2 1468.8,120.1 1469.6,118.1 1470.5,116.1 1471.3,114.1 1472.1,112.1 1473.0,110.1 1473.8,108.2 1474.7,106.2 1475.5,104.3 1476.4,102.3 1477.2,100.3 1478.1,98.4 1479.2,96.6 1480.5,94.9 1482.0,93.3 1483.5,91.8 1485.0,90.2 1486.4,88.7 1487.7,87.1 1489.0,85.6 1490.4,84.0 1491.7,82.5 1493.0,80.9 1494.3,79.3 1495.5,77.6 1496.8,75.9 1498.0,74.2 1499.3,72.5 1500.5,70.7 1501.8,69.0 1503.1,67.6 1504.4,67.0 1505.8,67.4 1507.2,68.6 1508.6,70.1 1510.1,71.7 1511.5,73.2 1512.9,74.8 1514.2,76.5 1515.3,78.3 1516.3,80.1 1517.3,82.1 1518.2,84.0 1519.2,85.9 1520.2,87.9 1521.1,89.8 1522.0,91.7 1522.8,93.7 1523.5,95.7 1524.2,97.8 1525.0,99.8 1525.7,101.8 1526.4,103.8 1527.1,105.9 1527.8,107.9 1528.5,109.9 1529.3,111.9 1530.0,114.0 1530.7,116.0 1531.3,118.0 1531.9,120.0 1532.4,122.0 1532.8,124.1 1533.3,126.1 1533.8,128.1 1534.3,130.2 1534.8,132.2 1535.2,134.2 1535.7,136.2 1536.2,138.2 1536.7,140.3 1537.2,142.3 1537.7,144.3 1538.1,146.3 1538.6,148.4 1539.0,150.4 1539.4,152.4 1539.8,154.4 1540.2,156.4 1540.5,158.4 1540.9,160.4 1541.3,162.4 1541.6,164.4 1542.0,166.4 1542.3,168.3 1542.7,170.3 1543.0,172.3 1543.4,174.3 1543.8,176.3 1544.1,178.3 1544.5,180.3 1544.8,182.3 1545.2,184.3 1545.5,186.4 1545.8,188.4 1546.1,190.5 1546.5,192.5 1546.8,194.6 1547.1,196.7 1547.4,198.7 1547.7,200.8 1548.0,202.8 1548.3,204.9 1548.6,207.0 1549.0,209.0 1549.3,211.1 1549.6,213.1 1549.9,215.2 1550.2,217.3 1550.5,219.3 1550.8,221.4 1551.1,223.4 1551.4,225.5 1551.7,227.5 1552.0,229.6 1552.4,231.6 1552.7,233.7 1553.0,235.7 1553.3,237.8 1553.6,239.8 1553.9,241.9 1554.2,243.9 1554.5,246.0 1554.8,248.0 1555.0,250.0 1555.3,252.0 1555.6,254.0 1555.9,256.0 1556.1,258.0 1556.4,260.0 1556.7,262.0 1556.9,264.0 1557.2,266.0 1557.5,268.0 1557.7,270.0 1558.0,272.0 1558.3,274.0 1558.6,276.0 1558.8,278.0 1559.1,280.0 1559.3,282.0 1559.6,284.0 1559.8,286.0 1560.0,288.0 1560.3,289.9 1560.5,291.9 1560.7,293.9 1561.0,295.9 1561.2,297.9 1561.4,299.9 1561.7,301.9 1561.9,303.9 1562.2,305.9 1562.4,307.9 1562.6,309.8 1562.9,311.8 1563.1,313.8 1563.3,315.8 1563.6,317.8 1563.8,319.8 1564.1,321.9 1564.3,324.0 1564.6,326.0 1564.9,328.1 1565.2,330.2 1565.4,332.3 1565.7,334.4 1566.0,336.5 1566.2,338.5 1566.5,340.6 1566.8,342.7 1567.0,344.8 1567.3,346.9 1567.6,349.0 1567.9,351.0 1568.1,353.1 1568.4,355.2 1568.7,357.3 1568.9,359.3 1569.2,361.4 1569.4,363.5 1569.7,365.5 1570.0,367.6 1570.2,369.7 1570.5,371.7 1570.7,373.8 1571.0,375.9 1571.2,377.9 1571.5,380.0 1571.8,382.0 1572.1,384.0 1572.3,386.0 1572.6,388.0 1572.9,390.0 1573.2,392.0 1573.5,394.0 1573.8,396.0 1574.0,398.0 1574.3,400.0 1574.6,402.0 1574.8,404.1 1575.1,406.2 1575.3,408.3 1575.6,410.4 1575.8,412.4 1576.1,414.5 1576.3,416.6 1576.5,418.7 1576.8,420.8 1577.0,422.9 1577.3,425.0 1577.5,427.1 1577.7,429.2 1578.0,431.3 1578.2,433.3 1578.5,435.4 1578.7,437.5 1579.0,439.6 1579.2,441.7 1579.4,443.7 1579.7,445.7 1579.9,447.7 1580.2,449.7 1580.4,451.7 1580.7,453.7 1580.9,455.7 1581.2,457.6 1581.4,459.6 1581.7,461.6 1581.9,463.6 1582.2,465.6 1582.4,467.6 1582.7,469.6 1582.9,471.6 1583.2,473.6 1583.4,475.6 1583.7,477.6 1583.9,479.6 1584.2,481.6 1584.4,483.6 1584.7,485.6 1584.9,487.6 1585.2,489.5 1585.4,491.5 1585.7,493.5 1585.9,495.5 1586.2,497.5 1586.4,499.5 1586.6,501.5 1586.9,503.5 1587.1,505.5 1587.3,507.5 1587.5,509.5 1587.7,511.5 1587.9,513.5 1588.1,515.4 1588.3,517.4 1588.5,519.4 1588.7,521.4 1588.9,523.4 1589.1,525.4 1589.3,527.4 1589.5,529.4 1589.7,531.4 1589.9,533.4 1590.1,535.3 1590.3,537.3 1590.5,539.3 1590.7,541.3 1590.9,543.3 1591.1,545.3 1591.3,547.3 1591.5,549.3 1591.7,551.3 1591.9,553.3 1592.1,555.2 1592.3,557.2 1592.5,559.2 1592.7,561.2 1592.9,563.2 1593.1,565.2 1593.3,567.3 1593.6,569.3 1593.8,571.4 1594.1,573.5 1594.3,575.5 1594.5,577.6 1594.8,579.7 1595.0,581.7 1595.3,583.8 1595.5,585.9 1595.8,587.9 1596.0,590.0 1596.3,592.0 1596.6,594.0 1596.9,596.0 1597.2,598.0 1597.5,600.0 1597.8,602.0 1598.1,604.0 1598.4,606.0 1598.7,608.0 1599.0,610.0 1599.3,612.0 1599.6,614.1 1599.8,616.2 1600.1,618.2 1600.3,620.3 1600.6,622.4 1600.8,624.5 1601.1,626.5 1601.3,628.6 1601.6,630.7 1601.9,632.8 1602.1,634.9 1602.4,636.9 1602.6,639.0 1602.9,641.1 1603.1,643.2 1603.4,645.2 1603.6,647.3 1603.9,649.4 1604.1,651.4 1604.4,653.5 1604.6,655.5 1604.9,657.5 1605.1,659.6 1605.4,661.6 1605.6,663.6 1605.8,665.7 1606.1,667.7 1606.3,669.7 1606.6,671.7 1606.8,673.8 1607.0,675.8 1607.3,677.8 1607.5,679.9 1607.8,681.9 1608.0,683.9 1608.3,686.0 1608.5,688.0 1608.7,690.0 1609.0,692.1 1609.2,694.1 1609.5,696.1 1609.7,698.2 1610.0,700.2 1610.2,702.2 1610.4,704.3 1610.7,706.3 1610.9,708.3 1611.2,710.3 1611.4,712.4 1611.6,714.4 1611.9,716.4 1612.1,718.5 1612.4,720.5 1612.6,722.5 1612.9,724.6 1613.1,726.6 1613.3,728.6 1613.6,730.7 1613.8,732.7 1614.1,734.7 1614.3,736.8 1614.6,738.8 1614.8,740.8 1615.1,742.9 1615.3,744.9 1615.6,746.9 1615.8,748.9 1616.1,751.0 1616.3,753.0 1616.6,755.0 1616.8,757.1 1617.1,759.1 1617.3,761.1 1617.5,763.2 1617.8,765.2 1618.0,767.2 1618.2,769.2 1618.4,771.2 1618.6,773.2 1618.8,775.2 1618.9,777.2 1619.1,779.1 1619.3,781.1 1619.5,783.1 1619.7,785.1 1619.9,787.1 1620.1,789.1" fill="none" stroke="#ff0000" stroke-width="2.5" stroke-linejoin="round" stroke-linecap="butt"/>
<polyline points="1747.7,738.0 1748.2,728.0 1748.8,731.7 1749.6,714.3 1750.9,717.5 1751.5,694.0 1752.0,722.0 1752.7,687.8 1753.3,706.4 1754.5,700.0 1755.0,662.0 1755.4,689.3 1756.0,662.5 1756.8,680.1 1758.2,638.4 1759.2,662.0 1759.7,626.0 1760.1,651.0 1760.8,627.9 1761.6,643.6 1762.7,615.4 1763.4,634.0 1763.8,604.0 1764.2,636.0 1764.9,598.2 1765.8,616.6 1766.8,581.4 1767.7,594.6 1768.5,562.0 1769.0,594.0 1769.4,566.1 1770.1,595.0 1771.3,571.0 1771.5,568.0 1772.0,619.0 1772.7,582.2 1773.8,608.9 1775.0,574.5 1775.3,563.0 1775.8,607.0 1776.5,560.5 1777.4,579.8 1778.5,582.0 1779.0,522.0 1779.5,569.3 1780.5,536.6 1781.4,558.4 1782.3,531.0 1782.8,560.0 1783.4,536.9 1784.1,558.9 1784.8,539.7 1786.0,564.5 1786.2,579.0 1786.8,536.0 1787.2,567.5 1787.9,559.8 1788.5,553.0 1789.0,506.0 1789.6,544.1 1790.5,518.9 1791.2,545.4 1791.7,551.0 1792.2,517.0 1792.9,546.3 1794.1,525.8 1794.9,543.6 1796.2,516.0 1796.8,543.0 1797.4,529.7 1798.7,536.4 1800.0,545.0 1800.5,562.0 1801.4,553.7 1802.1,566.9 1802.8,557.0 1803.8,573.1 1804.8,579.0 1805.2,560.0 1805.7,574.6 1806.4,558.9 1807.8,566.2 1808.5,554.0 1809.0,564.0 1809.8,552.2 1810.6,548.7 1811.6,561.9 1812.7,565.1 1813.2,571.0 1813.8,536.0 1814.1,569.2 1814.8,570.1 1816.0,572.3 1816.2,585.0 1816.8,573.0 1817.3,584.5 1818.3,576.1 1819.2,587.7 1820.2,591.0 1820.7,570.0 1821.5,587.0 1822.8,573.7 1824.1,579.4 1825.3,567.1 1826.0,577.3 1827.0,579.0 1827.5,564.0 1828.3,579.1 1829.6,569.0 1830.2,568.0 1830.7,600.0 1831.2,578.4 1832.3,592.6 1833.7,576.0 1834.8,576.0 1835.2,602.0 1835.8,575.0 1837.2,585.6 1837.8,566.0 1838.2,582.0 1838.8,571.0 1839.6,586.8 1840.3,569.8 1841.3,595.4 1842.0,567.6 1843.2,564.0 1843.8,613.0 1844.5,569.5 1845.1,596.3 1845.9,572.3 1846.8,599.9 1848.1,581.1 1848.9,592.4 1850.2,594.0 1850.8,579.0 1851.1,591.8 1852.0,586.6 1852.9,602.9 1853.6,586.9 1854.4,611.0 1855.4,593.1 1856.5,628.0 1857.0,591.0 1857.4,619.8 1858.2,613.6 1858.8,579.0 1859.2,610.0 1859.8,589.2 1860.6,599.8 1861.2,576.9 1862.5,609.9 1863.8,568.9 1864.5,603.5 1865.8,558.0 1866.2,617.0 1867.0,567.4 1867.7,574.9 1869.1,623.6 1870.4,594.7 1871.8,588.0 1872.2,645.0 1873.1,575.3 1873.3,563.0 1873.8,594.0 1874.6,572.7 1875.5,602.4 1876.2,586.0 1877.4,614.3 1878.8,602.0 1879.2,631.0 1879.7,606.4 1880.4,627.0 1881.4,609.0 1882.2,624.8 1882.9,609.0 1883.8,622.0 1884.4,612.6 1885.3,607.5 1886.5,622.0 1887.0,607.0 1887.7,632.5 1888.8,653.0 1889.2,622.0 1890.1,652.6 1891.4,635.5 1892.8,661.4 1893.5,666.0 1894.0,644.0 1894.6,670.4 1895.9,663.6 1896.7,690.3 1897.3,676.0 1897.8,700.0 1898.5,679.5 1899.4,696.8 1900.6,684.1 1901.4,696.4 1902.4,680.9 1902.8,680.0 1903.2,697.0 1903.7,683.2 1904.9,702.3 1906.2,689.3 1906.9,692.7 1907.3,691.0 1907.8,714.0 1908.5,699.1 1909.2,715.2 1909.9,702.4 1910.9,710.7 1912.0,722.0 1912.5,711.0 1913.1,721.2 1914.4,721.0 1915.2,727.7 1916.2,726.9 1916.7,733.0 1917.2,729.0 1917.9,734.5 1919.1,738.3 1919.7,736.7 1920.4,742.3 1921.2,746.0 1921.8,741.0 1922.5,746.6 1923.1,744.7 1924.3,750.6 1925.3,750.1 1925.8,755.0 1926.3,750.0 1927.0,752.4 1928.2,747.1 1929.0,749.0 1929.5,745.0 1929.9,753.9 1930.5,762.0 1931.0,758.0 1931.4,759.6 1932.6,753.7 1933.3,754.8 1933.5,750.0 1934.0,754.0 1934.7,753.4 1936.0,760.8 1936.7,760.0 1937.2,764.0 1937.8,763.1 1938.7,767.9 1940.0,767.8 1941.2,771.0 1941.8,775.0 1942.3,772.1 1943.2,776.1 1944.3,774.1 1945.0,777.5 1946.0,779.0 1946.5,775.0 1946.9,779.5 1948.3,778.1 1949.2,781.7 1950.2,779.9 1950.9,781.0 1952.0,782.0 1952.5,786.0 1953.2,784.3 1953.9,789.2 1954.9,788.4 1955.5,792.1 1956.2,793.0" fill="none" stroke="#000" stroke-width="2.5" stroke-linejoin="round" stroke-linecap="butt" stroke-linejoin="miter"/>
<polyline points="1745.6,778.3 1745.8,776.3 1745.9,774.2 1746.0,772.2 1746.2,770.1 1746.3,768.1 1746.5,766.0 1746.6,764.0 1746.8,761.9 1746.9,759.9 1747.1,757.8 1747.2,755.8 1747.4,753.8 1747.5,751.7 1747.7,749.7 1747.8,747.6 1748.0,745.6 1748.1,743.5 1748.3,741.5 1748.5,739.4 1748.6,737.4 1748.8,735.3 1748.9,733.2 1749.1,731.1 1749.2,729.1 1749.4,727.0 1749.5,724.9 1749.7,722.8 1749.8,720.7 1750.0,718.6 1750.1,716.6 1750.3,714.5 1750.5,712.4 1750.6,710.3 1750.8,708.2 1750.9,706.1 1751.1,704.0 1751.2,702.0 1751.4,699.9 1751.5,697.8 1751.7,695.7 1751.8,693.7 1752.0,691.7 1752.1,689.7 1752.2,687.6 1752.4,685.6 1752.5,683.6 1752.6,681.6 1752.8,679.6 1752.9,677.6 1753.0,675.6 1753.2,673.6 1753.3,671.5 1753.5,669.5 1753.6,667.5 1753.7,665.5 1753.9,663.5 1754.0,661.5 1754.1,659.5 1754.3,657.5 1754.4,655.4 1754.5,653.4 1754.7,651.4 1754.8,649.4 1755.0,647.4 1755.1,645.3 1755.3,643.3 1755.5,641.3 1755.6,639.3 1755.8,637.2 1755.9,635.2 1756.1,633.2 1756.3,631.2 1756.4,629.1 1756.6,627.1 1756.8,625.1 1756.9,623.1 1757.1,621.0 1757.2,619.0 1757.4,617.0 1757.6,615.0 1757.7,612.9 1757.9,610.9 1758.0,608.9 1758.2,606.9 1758.3,604.9 1758.5,602.9 1758.6,600.9 1758.8,598.9 1758.9,596.9 1759.1,594.9 1759.2,592.9 1759.3,590.9 1759.5,588.9 1759.6,586.9 1759.8,584.9 1759.9,582.9 1760.1,580.9 1760.2,578.9 1760.4,576.9 1760.6,574.8 1760.8,572.8 1761.0,570.8 1761.2,568.7 1761.4,566.7 1761.6,564.7 1761.8,562.6 1762.0,560.6 1762.3,558.6 1762.5,556.6 1762.7,554.5 1762.9,552.5 1763.1,550.5 1763.3,548.4 1763.5,546.4 1763.7,544.4 1763.9,542.3 1764.1,540.3 1764.3,538.2 1764.5,536.2 1764.7,534.1 1764.9,532.1 1765.1,530.0 1765.3,527.9 1765.5,525.9 1765.8,523.8 1766.0,521.8 1766.2,519.7 1766.4,517.6 1766.6,515.6 1766.8,513.5 1767.0,511.5 1767.2,509.4 1767.4,507.4 1767.7,505.3 1767.9,503.3 1768.2,501.3 1768.4,499.3 1768.7,497.2 1768.9,495.2 1769.1,493.2 1769.4,491.2 1769.6,489.1 1769.9,487.1 1770.1,485.1 1770.3,483.1 1770.6,481.0 1770.8,479.0 1771.1,477.0 1771.3,475.0 1771.6,472.9 1771.8,470.9 1772.1,468.8 1772.3,466.8 1772.6,464.7 1772.8,462.7 1773.1,460.6 1773.3,458.5 1773.6,456.5 1773.8,454.4 1774.1,452.4 1774.3,450.3 1774.6,448.2 1774.8,446.2 1775.1,444.1 1775.3,442.1 1775.6,440.0 1775.8,438.0 1776.0,436.0 1776.2,434.0 1776.4,432.0 1776.6,430.0 1776.8,428.0 1777.0,426.0 1777.2,424.0 1777.4,422.0 1777.6,420.0 1777.8,418.0 1778.0,416.0 1778.3,413.9 1778.6,411.9 1778.9,409.8 1779.2,407.8 1779.5,405.7 1779.8,403.7 1780.1,401.6 1780.5,399.6 1780.8,397.5 1781.1,395.5 1781.4,393.4 1781.7,391.4 1782.0,389.3 1782.3,387.3 1782.6,385.2 1782.9,383.1 1783.2,381.1 1783.5,379.0 1783.8,377.0 1784.1,374.9 1784.4,372.8 1784.7,370.8 1785.1,368.7 1785.4,366.7 1785.7,364.6 1786.0,362.5 1786.3,360.5 1786.6,358.4 1786.9,356.4 1787.3,354.3 1787.6,352.2 1788.1,350.1 1788.5,348.0 1788.9,345.9 1789.3,343.8 1789.8,341.7 1790.2,339.6 1790.6,337.5 1791.0,335.4 1791.5,333.3 1791.9,331.2 1792.3,329.1 1792.7,327.0 1793.2,324.9 1793.6,322.8 1794.0,320.7 1794.4,318.5 1794.8,316.4 1795.2,314.3 1795.7,312.2 1796.1,310.1 1796.6,308.0 1797.1,305.9 1797.6,303.8 1798.2,301.6 1798.8,299.5 1799.4,297.4 1799.9,295.2 1800.5,293.1 1801.1,291.1 1801.7,289.0 1802.3,287.0 1803.0,285.0 1803.6,283.0 1804.2,281.0 1804.8,279.0 1805.4,277.0 1806.1,275.0 1806.7,273.0 1807.4,271.1 1808.1,269.2 1808.8,267.3 1809.6,265.4 1810.4,263.6 1811.1,261.8 1811.9,259.9 1812.7,258.1 1813.5,256.2 1814.3,254.3 1815.1,252.5 1816.1,250.6 1817.1,248.6 1818.2,246.7 1819.2,244.8 1820.3,242.8 1821.4,240.9 1822.5,239.0 1823.8,237.4 1825.4,236.1 1827.1,234.9 1828.8,233.7 1830.4,232.4 1832.0,231.2 1833.5,230.6 1835.1,231.0 1836.6,232.0 1838.2,233.2 1840.0,234.3 1842.1,235.0 1844.3,235.5 1846.6,236.0 1848.7,236.6 1850.8,237.5 1852.8,238.6 1854.7,239.8 1856.5,241.1 1858.2,242.7 1859.8,244.3 1861.3,246.0 1862.8,247.7 1864.3,249.5 1865.6,251.3 1866.9,253.1 1868.1,254.9 1869.3,256.8 1870.4,258.7 1871.3,260.7 1872.1,262.7 1872.9,264.8 1873.7,266.9 1874.4,268.9 1875.2,271.0 1875.8,273.0 1876.5,275.0 1877.2,277.0 1877.8,278.9 1878.5,280.9 1879.2,282.9 1879.9,284.9 1880.7,287.0 1881.6,289.0 1882.5,291.0 1883.4,293.1 1884.3,295.2 1885.1,297.2 1885.8,299.3 1886.4,301.3 1887.0,303.4 1887.6,305.4 1888.2,307.5 1888.8,309.5 1889.4,311.6 1890.0,313.6 1890.6,315.6 1891.1,317.6 1891.6,319.6 1892.1,321.5 1892.7,323.4 1893.2,325.4 1893.7,327.3 1894.2,329.2 1894.7,331.2 1895.2,333.1 1895.8,335.0 1896.3,337.0 1896.8,339.0 1897.2,341.0 1897.6,343.1 1898.1,345.2 1898.5,347.3 1898.9,349.4 1899.3,351.5 1899.7,353.6 1900.1,355.7 1900.6,357.8 1901.0,359.9 1901.4,362.0 1901.8,364.1 1902.2,366.2 1902.7,368.3 1903.1,370.4 1903.5,372.5 1903.9,374.7 1904.3,376.8 1904.7,378.9 1905.2,381.0 1905.6,383.1 1906.0,385.2 1906.4,387.2 1906.7,389.2 1907.1,391.2 1907.4,393.3 1907.8,395.3 1908.2,397.3 1908.5,399.3 1908.9,401.3 1909.3,403.3 1909.6,405.4 1910.0,407.4 1910.3,409.4 1910.7,411.4 1911.0,413.4 1911.4,415.5 1911.7,417.5 1912.0,419.6 1912.3,421.6 1912.7,423.7 1913.0,425.7 1913.3,427.7 1913.7,429.8 1914.0,431.8 1914.3,433.9 1914.6,435.9 1915.0,438.0 1915.3,440.0 1915.6,442.0 1916.0,444.1 1916.3,446.1 1916.6,448.1 1916.9,450.2 1917.3,452.2 1917.6,454.2 1917.9,456.3 1918.2,458.3 1918.6,460.3 1918.9,462.3 1919.2,464.4 1919.5,466.4 1919.9,468.4 1920.2,470.5 1920.5,472.5 1920.8,474.5 1921.2,476.6 1921.5,478.6 1921.7,480.6 1922.0,482.6 1922.2,484.6 1922.4,486.6 1922.6,488.6 1922.9,490.6 1923.1,492.6 1923.3,494.6 1923.6,496.6 1923.8,498.6 1924.0,500.6 1924.3,502.6 1924.5,504.6 1924.7,506.6 1924.9,508.6 1925.2,510.6 1925.4,512.6 1925.6,514.6 1925.9,516.6 1926.1,518.6 1926.3,520.6 1926.6,522.6 1926.8,524.6 1927.0,526.6 1927.2,528.6 1927.5,530.6 1927.7,532.6 1927.9,534.6 1928.2,536.6 1928.4,538.6 1928.7,540.7 1928.9,542.7 1929.2,544.7 1929.4,546.7 1929.7,548.7 1929.9,550.7 1930.1,552.8 1930.4,554.8 1930.6,556.8 1930.9,558.8 1931.1,560.8 1931.4,562.8 1931.6,564.9 1931.8,566.9 1932.1,568.9 1932.3,570.9 1932.6,572.9 1932.8,574.9 1933.1,577.0 1933.3,579.0 1933.6,581.0 1933.8,583.0 1934.0,585.0 1934.3,587.1 1934.5,589.1 1934.8,591.2 1935.0,593.2 1935.3,595.2 1935.5,597.3 1935.8,599.3 1936.0,601.4 1936.3,603.4 1936.5,605.4 1936.8,607.5 1937.0,609.5 1937.3,611.6 1937.5,613.6 1937.8,615.6 1938.0,617.7 1938.3,619.7 1938.5,621.8 1938.8,623.8 1939.0,625.8 1939.3,627.9 1939.5,629.9 1939.7,632.0 1940.0,634.0 1940.2,636.0 1940.5,638.0 1940.7,640.0 1940.9,642.0 1941.1,644.0 1941.4,646.0 1941.6,648.0 1941.8,650.0 1942.1,652.0 1942.3,654.0 1942.5,656.0 1942.8,658.0 1943.0,660.0 1943.2,662.0 1943.4,664.0 1943.7,666.0 1943.9,668.0 1944.1,670.0 1944.4,672.0 1944.6,674.0 1944.8,676.0 1945.1,678.0 1945.3,680.0 1945.5,682.0 1945.7,684.0 1946.0,686.0 1946.2,688.0 1946.5,690.0 1946.7,692.0 1947.0,694.0 1947.3,696.1 1947.5,698.1 1947.8,700.1 1948.1,702.1 1948.3,704.1 1948.6,706.1 1948.9,708.1 1949.1,710.1 1949.4,712.2 1949.6,714.2 1949.9,716.2 1950.2,718.2 1950.4,720.2 1950.7,722.2 1951.0,724.2 1951.2,726.2 1951.5,728.3 1951.8,730.3 1952.0,732.3 1952.3,734.3 1952.6,736.4 1952.9,738.4 1953.2,740.5 1953.6,742.5 1953.9,744.6 1954.2,746.7 1954.5,748.7 1954.8,750.8 1955.1,752.8 1955.4,754.9 1955.7,757.0 1956.1,759.0 1956.4,761.1 1956.7,763.1 1957.0,765.2 1957.3,767.3 1957.5,769.4 1957.8,771.5 1958.1,773.6 1958.4,775.7 1958.6,777.8 1958.9,779.9 1959.2,781.9 1959.4,784.0 1959.7,786.1 1960.0,788.2 1960.3,790.3 1960.5,792.4 1960.8,794.5" fill="none" stroke="#ff0000" stroke-width="2.5" stroke-linejoin="round" stroke-linecap="butt"/>
<polyline points="2116.8,789.9 2117.0,791.3 2117.2,786.9 2117.1,786.2 2117.4,786.4 2117.4,782.9 2117.6,780.0 2117.9,782.3 2117.7,778.6 2118.2,775.1 2118.2,775.4 2118.4,775.4 2118.2,773.9 2118.5,770.7 2118.7,769.0 2119.0,770.8 2119.2,769.8 2119.2,765.9 2119.0,769.4 2119.1,763.0 2119.8,764.4 2119.9,761.0 2120.0,762.4 2119.7,762.8 2120.1,755.0 2120.2,757.0 2120.1,755.2 2120.6,754.7 2120.8,751.1 2120.9,755.1 2120.9,749.4 2121.0,750.9 2120.9,748.8 2121.0,748.5 2121.7,746.4 2121.7,746.1 2121.5,741.7 2122.0,743.9 2121.8,737.1 2121.9,741.8 2122.2,734.1 2122.3,738.4 2122.4,730.9 2123.4,733.1 2124.0,737.0 2124.4,738.4 2124.8,741.3 2125.9,737.7 2126.2,738.6 2126.5,737.5 2127.0,734.9 2127.6,738.5 2127.6,738.4 2128.4,727.9 2128.8,728.4 2128.7,725.1 2129.6,726.7 2129.5,728.7 2129.6,721.0 2129.9,722.2 2130.2,722.3 2130.6,719.3 2130.4,722.9 2130.9,720.0 2130.9,714.5 2131.3,715.9 2131.1,719.1 2131.4,717.9 2131.6,709.9 2131.6,709.5 2132.2,707.9 2132.5,712.0 2132.5,704.4 2132.7,703.9 2133.2,704.7 2133.2,703.5 2133.6,702.7 2133.8,698.9 2134.2,696.7 2134.5,696.1 2134.5,700.3 2134.6,692.9 2134.9,699.4 2135.4,696.8 2136.1,700.7 2136.2,698.9 2136.6,705.3 2137.0,704.2 2136.9,705.0 2138.2,702.7 2139.4,702.1 2139.9,706.8 2140.2,698.9 2140.6,703.4 2141.4,694.6 2141.1,695.8 2141.6,695.0 2141.8,694.3 2142.3,691.7 2142.5,688.4 2143.3,694.6 2143.5,686.1 2143.8,693.5 2144.2,692.5 2144.5,690.4 2145.0,698.2 2145.1,692.0 2145.5,695.4 2146.0,695.6 2146.1,694.1 2146.9,698.2 2147.3,699.9 2147.5,691.7 2148.0,689.6 2148.5,698.5 2148.8,690.5 2149.6,685.6 2150.0,692.2 2149.9,684.6 2150.3,687.5 2151.0,682.3 2151.4,685.3 2151.6,677.1 2152.4,686.8 2152.3,686.4 2152.9,686.0 2153.0,682.2 2153.6,684.0 2153.4,691.5 2154.3,694.0 2154.5,689.7 2154.6,701.3 2155.1,697.0 2155.0,701.7 2155.8,697.5 2155.6,695.0 2156.4,700.0 2156.6,697.9 2156.5,700.7 2156.6,694.0 2157.0,698.2 2157.4,697.1 2157.3,698.7 2157.7,690.8 2157.4,693.6 2158.0,693.3 2157.8,685.4 2158.3,681.1 2158.6,692.2 2158.8,688.8 2159.1,686.0 2159.1,681.5 2159.0,687.2 2159.2,679.9 2159.5,684.7 2160.5,673.2 2160.8,681.1 2162.0,684.5 2162.6,690.6 2163.2,684.2 2164.0,686.0 2164.5,684.0 2165.0,676.6 2166.1,678.0 2166.8,681.5 2166.6,673.6 2167.2,683.6 2167.3,679.2 2167.8,682.1 2167.8,689.5 2168.4,688.7 2168.8,687.7 2168.6,686.8 2169.4,689.3 2169.3,694.2 2169.9,694.3 2169.9,688.6 2170.2,700.4 2170.4,696.3 2171.1,700.3 2171.2,691.9 2171.3,697.4 2171.5,686.8 2172.3,689.5 2172.7,692.9 2173.0,685.9 2172.8,685.1 2173.6,679.9 2173.8,680.8 2173.7,685.6 2174.3,685.1 2174.6,675.4 2174.7,684.6 2175.0,677.1 2175.7,686.2 2176.0,685.2 2176.5,693.4 2176.3,690.9 2176.9,691.7 2177.0,697.6 2177.9,684.4 2178.5,694.6 2179.2,684.4 2180.2,680.8 2180.5,680.5 2181.5,680.1 2182.2,684.5 2182.3,677.6 2182.5,678.0 2183.1,676.3 2183.7,676.1 2183.6,679.6 2184.4,672.2 2184.3,668.8 2185.2,674.2 2185.3,675.5 2185.5,678.6 2186.0,674.7 2185.8,670.8 2186.2,677.2 2186.9,680.2 2187.2,684.3 2187.3,681.4 2187.4,687.2 2187.7,680.5 2188.2,680.0 2188.4,687.7 2188.3,686.2 2188.6,687.0 2189.2,693.9 2189.1,693.0 2189.5,693.0 2189.6,690.5 2189.6,697.2 2190.2,692.4 2190.0,707.8 2190.4,703.5 2190.8,694.8 2191.2,700.9 2191.8,696.1 2192.2,702.3 2192.6,691.8 2193.3,693.1 2194.1,698.4 2194.6,691.7 2194.3,696.9 2194.6,695.9 2194.5,699.4 2194.6,692.9 2194.4,697.8 2194.7,694.6 2194.5,702.9 2194.7,695.8 2194.9,696.8 2194.7,702.1 2195.3,701.3 2195.0,703.6 2195.1,705.7 2195.2,707.1 2195.7,709.5 2195.2,708.5 2195.8,719.7 2195.8,715.5 2195.5,722.3 2195.5,715.9 2196.1,721.2 2195.9,714.5 2196.3,714.0 2196.9,717.0 2197.3,717.7 2197.2,717.7 2197.7,714.0 2197.7,708.3 2198.3,709.5 2198.4,707.4 2199.2,710.3 2199.5,705.8 2200.5,708.9 2201.7,704.5 2202.4,706.1 2203.5,709.8 2204.3,710.9 2205.1,711.2 2206.3,711.1 2207.1,707.0 2208.1,707.4 2208.5,708.1 2208.9,707.3 2209.8,709.3 2210.3,713.5 2210.8,711.1 2211.3,715.1 2211.6,715.0 2212.5,713.6 2212.9,715.5 2213.7,717.4 2213.5,715.5 2213.6,718.3 2214.0,716.7 2214.2,714.2 2214.0,710.6 2214.1,714.9 2214.2,709.6 2214.5,712.0 2214.6,708.9 2214.4,706.4 2215.0,706.9 2214.7,699.2 2215.2,703.2 2214.9,697.8 2215.4,702.5 2215.7,699.2 2216.1,693.8 2216.8,693.3 2217.3,692.8 2217.6,691.4 2218.0,695.5 2218.9,693.7 2219.8,686.3 2220.6,684.8 2221.0,681.3 2221.5,691.7 2221.4,693.2 2221.6,694.4 2222.2,692.1 2222.2,695.0 2222.1,689.0 2222.3,701.5 2222.8,698.1 2222.8,693.2 2223.3,698.6 2223.3,701.9 2223.4,702.0 2223.3,709.5 2223.8,705.7 2224.3,704.7 2224.4,702.9 2224.4,703.6 2224.8,702.3 2225.0,697.0 2225.1,695.5 2225.7,699.1 2225.9,687.3 2226.4,692.2 2226.3,690.4 2226.7,687.0 2226.6,686.2 2227.3,686.1 2227.3,683.1 2227.4,688.3 2228.0,686.9 2228.5,686.6 2228.2,687.7 2228.9,688.4 2229.1,687.8 2228.9,690.9 2229.3,696.4 2229.7,693.1 2230.2,695.3 2230.3,692.5 2230.7,699.6 2230.6,703.9 2231.2,698.5 2231.5,697.6 2231.9,697.8 2232.2,704.5 2233.1,704.0 2233.4,703.3 2233.9,700.2 2234.6,696.4 2234.8,693.9 2235.3,692.6 2235.8,688.5 2236.0,690.5 2236.3,692.1 2236.6,686.6 2237.3,687.0 2237.7,684.1 2237.6,681.8 2237.9,685.1 2238.4,682.7 2238.4,678.8 2238.8,678.2 2239.7,684.7 2240.3,684.5 2241.4,683.0 2241.9,681.5 2243.1,685.4 2243.7,683.6 2243.7,687.9 2244.2,688.8 2244.3,692.4 2244.7,693.2 2245.3,690.6 2245.4,696.5 2245.8,694.3 2246.0,698.0 2246.3,693.9 2246.8,697.5 2247.3,696.1 2247.2,697.3 2247.9,704.3 2247.8,706.7 2248.5,709.6 2248.7,707.4 2248.9,704.2 2249.1,700.3 2249.3,700.3 2249.2,699.1 2249.5,703.1 2249.6,696.4 2249.8,695.8 2249.9,696.3 2250.1,697.9 2250.6,694.6 2250.8,689.1 2250.9,685.2 2251.3,685.4 2251.4,690.6 2251.7,686.5 2251.6,685.1 2252.2,679.9 2252.4,677.2 2252.7,678.2 2252.6,677.2 2252.6,673.6 2252.8,680.5 2252.9,674.2 2253.3,670.1 2253.5,669.9 2253.5,671.7 2253.5,674.2 2253.7,673.0 2253.8,674.4 2253.9,671.5 2253.9,679.5 2254.3,682.2 2254.2,679.5 2254.2,680.9 2254.8,685.8 2254.9,687.3 2254.8,681.3 2254.5,688.3 2254.9,694.8 2254.7,693.2 2255.3,693.8 2254.9,694.8 2255.1,696.7 2255.2,696.9 2255.6,688.0 2255.8,690.8 2256.2,688.0 2256.3,691.3 2257.0,686.4 2257.1,686.1 2257.4,685.4 2257.6,683.5 2257.8,685.8 2258.0,676.3 2258.6,678.7 2258.8,678.0 2259.1,679.5 2259.2,673.3 2259.9,676.0 2260.0,675.0 2260.7,672.3 2260.8,664.8 2261.6,672.2 2262.0,664.3 2262.1,669.3 2262.6,662.9 2263.2,665.4 2263.0,664.8 2263.7,657.9 2264.1,662.8 2264.7,664.4 2264.8,662.8 2264.8,664.0 2265.5,666.5 2266.1,669.4 2266.2,669.5 2266.5,670.3 2266.8,673.1 2267.6,671.2 2268.7,671.7 2269.6,671.4 2269.8,672.1 2269.9,670.7 2270.2,674.0 2270.2,674.3 2270.1,674.1 2270.4,677.8 2270.3,678.4 2270.6,680.9 2270.3,680.4 2270.6,684.1 2270.8,684.6 2270.9,686.7 2271.0,686.6 2270.9,689.8 2271.0,690.9 2271.2,690.4 2271.1,692.3 2271.3,692.4 2271.6,692.8 2271.2,694.1 2272.4,695.2 2273.2,694.6 2274.4,690.8 2275.5,689.8 2275.3,692.1 2275.6,691.9 2275.3,698.0 2275.3,693.7 2275.7,698.1 2275.6,701.1 2276.0,697.7 2275.7,700.6 2276.1,700.3 2276.0,706.9 2276.5,703.3 2276.9,709.8 2276.8,706.1 2277.3,710.3 2277.6,708.1 2277.7,715.5 2278.1,715.7 2278.3,718.1 2278.8,717.3 2279.0,717.2 2278.9,721.8 2279.3,717.2 2279.8,724.0 2280.4,721.1 2281.0,724.1 2281.5,722.0 2282.0,728.4 2282.3,726.4 2282.8,725.3 2282.9,723.2 2283.7,721.1 2283.8,722.6 2284.7,725.0 2284.7,724.1 2285.1,726.3 2285.3,728.8 2286.0,724.1 2286.2,726.9 2286.6,728.6 2286.8,729.7 2287.4,734.8 2287.7,735.4 2288.4,738.0 2288.9,736.9 2290.1,741.5 2290.6,738.4 2291.7,740.9 2292.5,741.9 2293.4,744.4 2294.3,744.7 2295.0,745.6 2296.4,747.1 2297.5,747.7 2298.3,747.9 2299.6,748.9 2300.5,750.1 2300.9,751.2 2301.2,752.2 2301.6,754.1 2302.2,755.0 2302.5,756.7 2303.1,757.9 2303.1,759.8 2303.3,760.7 2303.9,762.4 2305.6,762.3 2307.2,762.8 2308.6,763.3 2309.3,764.2 2310.4,765.5 2311.5,766.9 2312.4,768.0 2313.3,766.3 2313.9,764.8 2314.8,764.3 2315.6,762.9 2316.1,761.8 2317.3,761.3 2318.7,760.4 2319.7,759.5 2320.9,758.2 2322.3,757.1 2323.9,757.7 2325.4,757.5 2326.1,759.7 2326.7,756.6 2327.8,757.9 2328.5,758.3 2329.2,762.4 2330.1,760.6 2330.2,764.2 2330.7,762.7 2331.6,762.7 2332.1,759.8 2332.1,757.5 2332.5,755.1 2332.8,753.3 2333.2,753.3 2333.8,751.8 2334.1,755.1 2334.7,752.8 2334.3,757.8 2335.0,756.3 2335.1,759.7 2335.3,761.7 2335.8,757.8 2335.7,763.5 2336.2,760.9 2336.2,764.3 2336.4,763.1 2336.2,771.0 2336.5,771.8 2336.8,767.3 2336.9,774.3 2337.0,775.1 2337.1,775.7 2337.2,777.3 2337.0,777.8 2337.6,781.6 2337.3,782.0 2337.8,778.6 2337.7,780.1 2337.8,783.7" fill="none" stroke="#000" stroke-width="2.6" stroke-linejoin="round" stroke-linecap="butt" stroke-linejoin="miter"/>
<polyline points="2116.3,782.2 2116.4,780.1 2116.5,778.0 2116.6,776.0 2116.7,773.9 2116.8,771.8 2116.9,769.7 2117.0,767.6 2117.1,765.5 2117.2,763.5 2117.3,761.4 2117.4,759.3 2117.5,757.2 2117.6,755.1 2117.7,753.0 2117.8,751.0 2117.9,748.9 2118.0,746.8 2118.1,744.7 2118.2,742.6 2118.3,740.5 2118.4,738.5 2118.5,736.4 2118.6,734.3 2118.7,732.3 2118.9,730.3 2119.0,728.3 2119.1,726.2 2119.3,724.2 2119.4,722.2 2119.5,720.2 2119.7,718.2 2119.8,716.2 2119.9,714.2 2120.1,712.2 2120.2,710.1 2120.4,708.1 2120.5,706.1 2120.6,704.1 2120.8,702.1 2120.9,700.1 2121.0,698.1 2121.2,696.1 2121.3,694.0 2121.4,692.0 2121.6,690.0 2121.7,688.0 2121.8,686.0 2122.0,684.0 2122.1,682.0 2122.2,679.9 2122.4,677.9 2122.5,675.9 2122.6,673.9 2122.8,671.9 2122.9,669.9 2123.0,667.9 2123.2,665.9 2123.3,663.8 2123.5,661.8 2123.6,659.8 2123.7,657.8 2123.9,655.8 2124.0,653.8 2124.1,651.8 2124.3,649.8 2124.4,647.7 2124.5,645.7 2124.7,643.7 2124.8,641.7 2125.0,639.7 2125.2,637.6 2125.4,635.6 2125.6,633.6 2125.8,631.5 2126.0,629.5 2126.2,627.5 2126.4,625.4 2126.6,623.4 2126.9,621.4 2127.1,619.4 2127.3,617.3 2127.5,615.3 2127.7,613.3 2127.9,611.2 2128.1,609.2 2128.3,607.2 2128.5,605.1 2128.8,603.1 2129.1,601.0 2129.4,598.9 2129.7,596.8 2130.1,594.7 2130.4,592.6 2130.8,590.5 2131.1,588.4 2131.5,586.3 2131.8,584.2 2132.1,582.1 2132.4,580.0 2132.6,577.9 2132.8,575.9 2132.9,573.8 2133.0,571.8 2133.1,569.7 2133.3,567.6 2133.4,565.6 2133.5,563.5 2133.7,561.5 2133.8,559.4 2133.9,557.4 2134.0,555.3 2134.2,553.2 2134.3,551.2 2134.4,549.1 2134.6,547.1 2134.7,545.0 2134.8,542.9 2135.0,540.9 2135.1,538.8 2135.2,536.8 2135.3,534.7 2135.5,532.7 2135.6,530.6 2135.8,528.6 2135.9,526.5 2136.1,524.5 2136.3,522.5 2136.4,520.4 2136.6,518.4 2136.7,516.4 2136.9,514.3 2137.1,512.3 2137.2,510.3 2137.4,508.3 2137.6,506.2 2137.7,504.2 2137.9,502.2 2138.0,500.1 2138.2,498.1 2138.4,496.1 2138.5,494.0 2138.7,492.0 2139.0,490.0 2139.2,487.9 2139.4,485.9 2139.7,483.9 2139.9,481.9 2140.2,479.8 2140.4,477.8 2140.6,475.8 2140.9,473.8 2141.1,471.7 2141.4,469.7 2141.6,467.7 2141.8,465.7 2142.1,463.6 2142.3,461.6 2142.6,459.6 2142.8,457.6 2143.1,455.5 2143.3,453.5 2143.5,451.5 2143.8,449.4 2144.0,447.4 2144.3,445.4 2144.5,443.3 2144.8,441.3 2145.0,439.3 2145.3,437.2 2145.5,435.2 2145.8,433.2 2146.0,431.2 2146.3,429.1 2146.5,427.1 2146.8,425.1 2147.0,423.0 2147.3,421.0 2147.5,419.0 2147.8,416.9 2148.0,414.9 2148.3,412.9 2148.5,410.9 2148.8,408.9 2149.1,406.9 2149.4,404.9 2149.6,402.9 2149.9,400.9 2150.2,398.9 2150.4,396.9 2150.7,394.9 2151.0,392.9 2151.2,390.9 2151.5,388.9 2151.8,386.9 2152.1,384.9 2152.3,382.9 2152.6,380.9 2152.9,378.9 2153.3,376.9 2153.6,374.9 2153.9,373.0 2154.2,371.0 2154.6,369.0 2154.9,367.0 2155.2,365.0 2155.6,363.0 2155.9,361.0 2156.2,359.1 2156.5,357.1 2156.9,355.1 2157.2,353.0 2157.6,351.0 2158.0,348.9 2158.4,346.8 2158.8,344.7 2159.2,342.6 2159.5,340.5 2159.9,338.4 2160.3,336.3 2160.7,334.2 2161.1,332.1 2161.4,330.0 2161.8,327.9 2162.1,325.9 2162.3,323.8 2162.6,321.8 2162.9,319.7 2163.2,317.7 2163.4,315.6 2163.7,313.6 2164.0,311.5 2164.3,309.4 2164.6,307.4 2164.8,305.3 2165.1,303.3 2165.4,301.2 2165.7,299.2 2165.9,297.1 2166.2,295.1 2166.5,293.0 2166.8,291.0 2167.2,289.0 2167.5,287.0 2167.8,285.1 2168.1,283.1 2168.5,281.1 2168.8,279.1 2169.1,277.1 2169.5,275.1 2169.8,273.1 2170.1,271.2 2170.4,269.2 2170.8,267.2 2171.1,265.1 2171.5,263.1 2171.9,261.0 2172.4,258.9 2172.8,256.8 2173.2,254.7 2173.6,252.5 2174.0,250.4 2174.4,248.3 2174.9,246.2 2175.3,244.1 2175.8,242.0 2176.3,240.0 2176.8,238.0 2177.3,236.0 2177.9,234.0 2178.4,232.0 2178.9,230.0 2179.5,228.0 2180.0,226.0 2180.6,224.0 2181.2,221.9 2181.8,219.9 2182.5,217.8 2183.1,215.6 2183.8,213.5 2184.5,211.4 2185.2,209.2 2185.8,207.1 2186.6,205.1 2187.4,203.0 2188.3,201.0 2189.2,199.0 2190.0,197.1 2190.9,195.1 2191.8,193.1 2192.8,191.1 2193.7,189.0 2194.8,187.0 2195.8,185.0 2196.8,182.9 2197.9,180.9 2198.9,178.9 2199.9,177.0 2201.0,175.2 2202.0,173.4 2203.0,171.6 2204.1,169.8 2205.1,168.0 2206.2,166.2 2207.3,164.5 2208.4,162.7 2209.5,160.9 2210.6,159.1 2211.6,157.3 2212.5,155.5 2213.2,153.6 2213.7,151.6 2214.1,149.6 2214.6,147.7 2215.0,145.7 2215.5,143.7 2216.0,141.7 2216.6,139.7 2217.2,137.7 2217.9,135.7 2218.5,133.8 2219.2,131.8 2219.9,129.8 2220.9,127.8 2222.1,125.9 2223.6,123.9 2225.2,122.1 2227.0,120.4 2229.1,119.0 2231.3,117.6 2233.6,116.5 2235.7,115.7 2237.7,115.9 2239.4,116.8 2240.8,118.4 2242.0,120.3 2243.0,122.3 2244.1,124.3 2245.1,126.3 2246.1,128.2 2247.1,130.2 2248.1,132.1 2249.0,134.0 2250.0,135.9 2251.0,137.8 2251.9,139.8 2252.8,141.8 2253.6,143.8 2254.3,145.8 2255.0,147.9 2255.7,149.9 2256.3,152.0 2257.0,154.0 2257.7,156.1 2258.4,158.1 2259.0,160.2 2259.6,162.2 2260.2,164.1 2260.8,166.1 2261.3,168.1 2261.9,170.1 2262.4,172.0 2263.0,174.0 2263.5,176.0 2264.1,178.0 2264.6,179.9 2265.1,181.9 2265.6,183.9 2266.1,185.8 2266.5,187.8 2266.9,189.8 2267.3,191.7 2267.8,193.7 2268.2,195.6 2268.6,197.6 2269.0,199.6 2269.5,201.5 2269.9,203.5 2270.2,205.5 2270.6,207.5 2270.9,209.4 2271.2,211.4 2271.5,213.4 2271.9,215.4 2272.2,217.3 2272.5,219.3 2272.9,221.3 2273.2,223.3 2273.5,225.3 2273.8,227.2 2274.2,229.2 2274.5,231.3 2274.8,233.3 2275.2,235.4 2275.5,237.5 2275.8,239.6 2276.1,241.7 2276.5,243.8 2276.8,245.9 2277.1,248.0 2277.5,250.1 2277.8,252.2 2278.1,254.3 2278.4,256.4 2278.8,258.5 2279.1,260.6 2279.4,262.6 2279.7,264.7 2280.0,266.8 2280.4,268.8 2280.7,270.9 2281.0,272.9 2281.3,275.0 2281.6,277.0 2281.9,279.1 2282.2,281.1 2282.5,283.2 2282.9,285.2 2283.2,287.3 2283.5,289.3 2283.8,291.4 2284.0,293.4 2284.3,295.5 2284.5,297.5 2284.8,299.5 2285.0,301.6 2285.3,303.6 2285.5,305.6 2285.7,307.7 2286.0,309.7 2286.2,311.7 2286.5,313.7 2286.7,315.8 2286.9,317.8 2287.2,319.8 2287.4,321.9 2287.7,323.9 2287.9,325.9 2288.2,328.0 2288.4,330.0 2288.6,332.0 2288.9,334.1 2289.1,336.1 2289.4,338.1 2289.6,340.2 2289.9,342.2 2290.1,344.2 2290.3,346.3 2290.6,348.3 2290.8,350.3 2291.1,352.3 2291.3,354.4 2291.5,356.4 2291.8,358.4 2292.0,360.5 2292.3,362.5 2292.5,364.5 2292.8,366.6 2293.0,368.6 2293.2,370.6 2293.5,372.7 2293.7,374.7 2294.0,376.7 2294.2,378.8 2294.5,380.8 2294.7,382.8 2295.0,384.9 2295.2,386.9 2295.5,388.9 2295.7,390.9 2296.0,393.0 2296.2,395.0 2296.5,397.0 2296.7,399.1 2297.0,401.1 2297.2,403.1 2297.5,405.2 2297.7,407.2 2297.9,409.2 2298.2,411.3 2298.4,413.3 2298.7,415.3 2298.9,417.3 2299.2,419.4 2299.4,421.4 2299.6,423.4 2299.9,425.4 2300.1,427.5 2300.4,429.5 2300.6,431.5 2300.8,433.5 2301.1,435.6 2301.3,437.6 2301.6,439.6 2301.8,441.6 2302.1,443.7 2302.3,445.7 2302.5,447.7 2302.8,449.8 2303.0,451.8 2303.3,453.8 2303.5,455.9 2303.8,457.9 2304.0,459.9 2304.2,462.0 2304.5,464.0 2304.7,466.0 2305.0,468.0 2305.2,470.1 2305.4,472.1 2305.7,474.1 2305.9,476.2 2306.2,478.2 2306.4,480.2 2306.7,482.3 2306.9,484.3 2307.1,486.3 2307.4,488.4 2307.6,490.4 2307.9,492.4 2308.1,494.5 2308.4,496.5 2308.6,498.5 2308.8,500.6 2309.1,502.6 2309.3,504.6 2309.6,506.6 2309.8,508.7 2310.0,510.7 2310.3,512.7 2310.5,514.8 2310.8,516.8 2311.0,518.8 2311.3,520.9 2311.5,522.9 2311.7,525.0 2311.9,527.0 2312.1,529.1 2312.3,531.1 2312.5,533.2 2312.7,535.3 2312.9,537.3 2313.2,539.4 2313.4,541.4 2313.6,543.5 2313.8,545.6 2314.0,547.6 2314.2,549.7 2314.4,551.7 2314.6,553.8 2314.9,555.8 2315.1,557.8 2315.4,559.8 2315.6,561.9 2315.9,563.9 2316.1,565.9 2316.4,567.9 2316.7,569.9 2316.9,571.9 2317.2,574.0 2317.4,576.0 2317.7,578.0 2317.9,580.0 2318.2,582.1 2318.4,584.1 2318.6,586.1 2318.8,588.1 2319.1,590.2 2319.3,592.2 2319.5,594.2 2319.8,596.3 2320.0,598.3 2320.2,600.3 2320.5,602.4 2320.7,604.4 2320.9,606.4 2321.2,608.4 2321.4,610.5 2321.6,612.5 2321.8,614.5 2322.1,616.6 2322.3,618.6 2322.5,620.6 2322.8,622.7 2323.0,624.7 2323.3,626.7 2323.5,628.8 2323.8,630.8 2324.0,632.8 2324.3,634.9 2324.5,636.9 2324.8,638.9 2325.0,640.9 2325.3,643.0 2325.5,645.0 2325.8,647.0 2326.0,649.1 2326.3,651.1 2326.5,653.1 2326.7,655.2 2327.0,657.2 2327.2,659.2 2327.4,661.2 2327.6,663.2 2327.8,665.3 2328.0,667.3 2328.2,669.3 2328.4,671.3 2328.6,673.3 2328.8,675.3 2329.0,677.3 2329.2,679.3 2329.4,681.4 2329.6,683.4 2329.8,685.4 2330.0,687.4 2330.2,689.4 2330.4,691.4 2330.6,693.4 2330.8,695.4 2331.0,697.5 2331.2,699.5 2331.4,701.5 2331.6,703.5 2331.8,705.5 2332.1,707.6 2332.3,709.6 2332.6,711.6 2332.8,713.6 2333.1,715.7 2333.3,717.7 2333.5,719.7 2333.8,721.7 2334.0,723.8 2334.3,725.8 2334.5,727.8 2334.7,729.8 2335.0,731.9 2335.2,733.9 2335.5,735.9 2335.7,737.9 2336.0,740.0 2336.2,742.0 2336.4,744.1 2336.6,746.1 2336.8,748.2 2337.0,750.2 2337.2,752.3 2337.4,754.4 2337.6,756.4 2337.9,758.5 2338.1,760.5 2338.3,762.6 2338.5,764.7 2338.7,766.7 2338.9,768.8 2339.1,770.8 2339.3,772.9 2339.5,775.0 2339.7,777.1 2340.0,779.2 2340.2,781.3 2340.4,783.4 2340.6,785.5 2340.9,787.6 2341.1,789.6 2341.3,791.7 2341.5,793.8 2341.7,795.9 2342.0,798.0 2342.2,800.1 2342.4,802.2" fill="none" stroke="#ff0000" stroke-width="2.5" stroke-linejoin="round" stroke-linecap="butt"/>
<line x1="1338.40" y1="30.10" x2="1338.40" y2="808.50" stroke="#000" stroke-width="3.0"/>
<line x1="1338.40" y1="807.00" x2="2397.00" y2="807.00" stroke="#000" stroke-width="3.0"/>
<line x1="1338.40" y1="31.60" x2="2397.00" y2="31.60" stroke="#000" stroke-width="3.0"/>
<line x1="2397.00" y1="30.10" x2="2397.00" y2="808.50" stroke="#ff0000" stroke-width="3.0"/>
<line x1="1338.40" y1="677.77" x2="1346.70" y2="677.77" stroke="#000" stroke-width="3.0"/>
<line x1="2388.20" y1="677.77" x2="2397.00" y2="677.77" stroke="#ff0000" stroke-width="3.0"/>
<line x1="1338.40" y1="548.53" x2="1355.40" y2="548.53" stroke="#000" stroke-width="3.0"/>
<line x1="2379.50" y1="548.53" x2="2397.00" y2="548.53" stroke="#ff0000" stroke-width="3.0"/>
<line x1="1338.40" y1="419.30" x2="1346.70" y2="419.30" stroke="#000" stroke-width="3.0"/>
<line x1="2388.20" y1="419.30" x2="2397.00" y2="419.30" stroke="#ff0000" stroke-width="3.0"/>
<line x1="1338.40" y1="290.07" x2="1355.40" y2="290.07" stroke="#000" stroke-width="3.0"/>
<line x1="2379.50" y1="290.07" x2="2397.00" y2="290.07" stroke="#ff0000" stroke-width="3.0"/>
<line x1="1338.40" y1="160.83" x2="1346.70" y2="160.83" stroke="#000" stroke-width="3.0"/>
<line x1="2388.20" y1="160.83" x2="2397.00" y2="160.83" stroke="#ff0000" stroke-width="3.0"/>
<line x1="2379.50" y1="31.60" x2="2397.00" y2="31.60" stroke="#ff0000" stroke-width="3.0"/>
<line x1="2379.50" y1="807.00" x2="2397.00" y2="807.00" stroke="#ff0000" stroke-width="3.0"/>
<line x1="1426.62" y1="807.00" x2="1426.62" y2="798.70" stroke="#000" stroke-width="3.0"/>
<line x1="1514.83" y1="807.00" x2="1514.83" y2="790.00" stroke="#000" stroke-width="3.0"/>
<line x1="1603.05" y1="807.00" x2="1603.05" y2="798.70" stroke="#000" stroke-width="3.0"/>
<line x1="1691.27" y1="807.00" x2="1691.27" y2="790.00" stroke="#000" stroke-width="3.0"/>
<line x1="1779.48" y1="807.00" x2="1779.48" y2="798.70" stroke="#000" stroke-width="3.0"/>
<line x1="1867.70" y1="807.00" x2="1867.70" y2="790.00" stroke="#000" stroke-width="3.0"/>
<line x1="1955.92" y1="807.00" x2="1955.92" y2="798.70" stroke="#000" stroke-width="3.0"/>
<line x1="2044.13" y1="807.00" x2="2044.13" y2="790.00" stroke="#000" stroke-width="3.0"/>
<line x1="2132.35" y1="807.00" x2="2132.35" y2="798.70" stroke="#000" stroke-width="3.0"/>
<line x1="2220.57" y1="807.00" x2="2220.57" y2="790.00" stroke="#000" stroke-width="3.0"/>
<line x1="2308.78" y1="807.00" x2="2308.78" y2="798.70" stroke="#000" stroke-width="3.0"/>
<text x="1320.3" y="819.6" font-family='"Liberation Serif", serif' font-size="46" font-weight="normal" fill="#000" text-anchor="end" stroke="#ffffff" stroke-width="0.35" stroke-linejoin="round">0.0</text>
<text x="1320.3" y="561.1" font-family='"Liberation Serif", serif' font-size="46" font-weight="normal" fill="#000" text-anchor="end" stroke="#ffffff" stroke-width="0.35" stroke-linejoin="round">0.2</text>
<text x="1320.3" y="302.7" font-family='"Liberation Serif", serif' font-size="46" font-weight="normal" fill="#000" text-anchor="end" stroke="#ffffff" stroke-width="0.35" stroke-linejoin="round">0.4</text>
<text x="1320.3" y="44.2" font-family='"Liberation Serif", serif' font-size="46" font-weight="normal" fill="#000" text-anchor="end" stroke="#ffffff" stroke-width="0.35" stroke-linejoin="round">0.6</text>
<text x="2413.3" y="819.5" font-family='"Liberation Serif", serif' font-size="46" font-weight="normal" fill="#ff0000" text-anchor="start" stroke="#ffffff" stroke-width="0.35" stroke-linejoin="round">0</text>
<text x="2413.3" y="561.0" font-family='"Liberation Serif", serif' font-size="46" font-weight="normal" fill="#ff0000" text-anchor="start" stroke="#ffffff" stroke-width="0.35" stroke-linejoin="round">1</text>
<text x="2413.3" y="302.6" font-family='"Liberation Serif", serif' font-size="46" font-weight="normal" fill="#ff0000" text-anchor="start" stroke="#ffffff" stroke-width="0.35" stroke-linejoin="round">2</text>
<text x="2413.3" y="44.1" font-family='"Liberation Serif", serif' font-size="46" font-weight="normal" fill="#ff0000" text-anchor="start" stroke="#ffffff" stroke-width="0.35" stroke-linejoin="round">3</text>
<text x="1338.4" y="858.0" font-family='"Liberation Serif", serif' font-size="46" font-weight="normal" fill="#000" text-anchor="middle" stroke="#ffffff" stroke-width="0.35" stroke-linejoin="round">18:00</text>
<text x="1514.8" y="858.0" font-family='"Liberation Serif", serif' font-size="46" font-weight="normal" fill="#000" text-anchor="middle" stroke="#ffffff" stroke-width="0.35" stroke-linejoin="round">00:00</text>
<text x="1691.3" y="858.0" font-family='"Liberation Serif", serif' font-size="46" font-weight="normal" fill="#000" text-anchor="middle" stroke="#ffffff" stroke-width="0.35" stroke-linejoin="round">06:00</text>
<text x="1867.7" y="858.0" font-family='"Liberation Serif", serif' font-size="46" font-weight="normal" fill="#000" text-anchor="middle" stroke="#ffffff" stroke-width="0.35" stroke-linejoin="round">12:00</text>
<text x="2044.1" y="858.0" font-family='"Liberation Serif", serif' font-size="46" font-weight="normal" fill="#000" text-anchor="middle" stroke="#ffffff" stroke-width="0.35" stroke-linejoin="round">18:00</text>
<text x="2220.6" y="858.0" font-family='"Liberation Serif", serif' font-size="46" font-weight="normal" fill="#000" text-anchor="middle" stroke="#ffffff" stroke-width="0.35" stroke-linejoin="round">00:00</text>
<text x="2397.0" y="858.0" font-family='"Liberation Serif", serif' font-size="46" font-weight="normal" fill="#000" text-anchor="middle" stroke="#ffffff" stroke-width="0.35" stroke-linejoin="round">06:00</text>
<text x="1290.0" y="907.0" font-family='"Liberation Serif", serif' font-size="46" font-weight="normal" fill="#000" text-anchor="start" stroke="#ffffff" stroke-width="0.35" stroke-linejoin="round">24 Dec</text>
<text x="1463.0" y="907.0" font-family='"Liberation Serif", serif' font-size="46" font-weight="normal" fill="#000" text-anchor="start" stroke="#ffffff" stroke-width="0.35" stroke-linejoin="round">25 Dec</text>
<text x="2175.5" y="908.5" font-family='"Liberation Serif", serif' font-size="46" font-weight="normal" fill="#000" text-anchor="start" stroke="#ffffff" stroke-width="0.35" stroke-linejoin="round">26 Dec</text>
<text x="1745.5" y="949.5" font-family='"Liberation Serif", serif' font-size="46" font-weight="normal" fill="#000" text-anchor="start" stroke="#ffffff" stroke-width="0.35" stroke-linejoin="round">Time and Date</text>
<line x1="1625.50" y1="87.90" x2="1732.40" y2="87.90" stroke="#000" stroke-width="3"/>
<line x1="1625.50" y1="157.80" x2="1732.40" y2="157.80" stroke="#ff0000" stroke-width="3"/>
<text x="1744.0" y="103.7" font-family='"Liberation Serif", serif' font-size="46.3" font-weight="normal" fill="#000" text-anchor="start" stroke="#ffffff" stroke-width="0.35" stroke-linejoin="round">Significant Wave Height</text>
<text x="1744.0" y="171.9" font-family='"Liberation Serif", serif' font-size="46" font-weight="normal" fill="#000" text-anchor="start" stroke="#ffffff" stroke-width="0.35" stroke-linejoin="round">Water depth</text>
<text x="2486.0" y="419.0" font-family='"Liberation Serif", serif' font-size="46" font-weight="normal" fill="#ff0000" text-anchor="middle" transform="rotate(-90 2486.0 419.0)" stroke="#ffffff" stroke-width="0.35" stroke-linejoin="round">Water depth (m)</text>
<text x="1230.0" y="32.6" font-family='"Liberation Sans", sans-serif' font-size="43.8" font-weight="bold" fill="#000" text-anchor="start">B</text>
<line x1="611.7" y1="1457.15" x2="2121.3" y2="1457.15" stroke="#b4b4b4" stroke-width="1.9" stroke-dasharray="6.1 3.3"/>
<line x1="611.7" y1="1301.70" x2="2121.3" y2="1301.70" stroke="#b4b4b4" stroke-width="1.9" stroke-dasharray="6.1 3.3"/>
<line x1="611.7" y1="1146.25" x2="2121.3" y2="1146.25" stroke="#b4b4b4" stroke-width="1.9" stroke-dasharray="6.1 3.3"/>
<line x1="595.70" y1="989.65" x2="595.70" y2="1613.75" stroke="#404040" stroke-width="2.3"/>
<line x1="595.70" y1="1612.60" x2="2135.30" y2="1612.60" stroke="#404040" stroke-width="2.3"/>
<line x1="595.70" y1="990.80" x2="2135.30" y2="990.80" stroke="#404040" stroke-width="2.3"/>
<line x1="2135.30" y1="989.65" x2="2135.30" y2="1612.60" stroke="#ff3333" stroke-width="2.3"/>
<line x1="2135.30" y1="1599.10" x2="2135.30" y2="1613.75" stroke="#404040" stroke-width="2.3"/>
<line x1="595.70" y1="1457.15" x2="609.70" y2="1457.15" stroke="#404040" stroke-width="2.3"/>
<line x1="2121.30" y1="1457.15" x2="2135.30" y2="1457.15" stroke="#ff3333" stroke-width="2.3"/>
<line x1="595.70" y1="1301.70" x2="609.70" y2="1301.70" stroke="#404040" stroke-width="2.3"/>
<line x1="2121.30" y1="1301.70" x2="2135.30" y2="1301.70" stroke="#ff3333" stroke-width="2.3"/>
<line x1="595.70" y1="1146.25" x2="609.70" y2="1146.25" stroke="#404040" stroke-width="2.3"/>
<line x1="2121.30" y1="1146.25" x2="2135.30" y2="1146.25" stroke="#ff3333" stroke-width="2.3"/>
<line x1="2121.30" y1="990.80" x2="2135.30" y2="990.80" stroke="#ff3333" stroke-width="2.3"/>
<line x1="788.15" y1="1612.60" x2="788.15" y2="1599.10" stroke="#404040" stroke-width="2.3"/>
<line x1="980.60" y1="1612.60" x2="980.60" y2="1599.10" stroke="#404040" stroke-width="2.3"/>
<line x1="1173.05" y1="1612.60" x2="1173.05" y2="1599.10" stroke="#404040" stroke-width="2.3"/>
<line x1="1365.50" y1="1612.60" x2="1365.50" y2="1599.10" stroke="#404040" stroke-width="2.3"/>
<line x1="1557.95" y1="1612.60" x2="1557.95" y2="1599.10" stroke="#404040" stroke-width="2.3"/>
<line x1="1750.40" y1="1612.60" x2="1750.40" y2="1599.10" stroke="#404040" stroke-width="2.3"/>
<line x1="1942.85" y1="1612.60" x2="1942.85" y2="1599.10" stroke="#404040" stroke-width="2.3"/>
<polyline points="658.7,1268.2 851.2,1097.8 1043.7,1240.4 1236.2,1233.3 1428.7,1301.2 1621.2,1194.0 1813.7,1177.5 2006.2,1139.6" fill="none" stroke="#000" stroke-width="4" stroke-linejoin="round" stroke-linecap="butt"/>
<polyline points="658.7,1601.7 851.2,1017.9 1043.7,1031.5 1236.2,1126.9 1428.7,1184.3 1621.2,1204.3 1813.7,1172.8 2006.2,1187.5" fill="none" stroke="#ff0000" stroke-width="4" stroke-linejoin="round" stroke-linecap="butt"/>
<rect x="650.4" y="1259.9" width="16.6" height="16.6" fill="#000"/>
<rect x="842.9" y="1089.5" width="16.6" height="16.6" fill="#000"/>
<rect x="1035.4" y="1232.1" width="16.6" height="16.6" fill="#000"/>
<rect x="1227.9" y="1225.0" width="16.6" height="16.6" fill="#000"/>
<rect x="1420.4" y="1292.9" width="16.6" height="16.6" fill="#000"/>
<rect x="1612.9" y="1185.7" width="16.6" height="16.6" fill="#000"/>
<rect x="1805.4" y="1169.2" width="16.6" height="16.6" fill="#000"/>
<rect x="1997.9" y="1131.3" width="16.6" height="16.6" fill="#000"/>
<circle cx="658.7" cy="1601.7" r="8.3" fill="#ff0000"/>
<circle cx="851.2" cy="1017.9" r="8.3" fill="#ff0000"/>
<circle cx="1043.7" cy="1031.5" r="8.3" fill="#ff0000"/>
<circle cx="1236.2" cy="1126.9" r="8.3" fill="#ff0000"/>
<circle cx="1428.7" cy="1184.3" r="8.3" fill="#ff0000"/>
<circle cx="1621.2" cy="1204.3" r="8.3" fill="#ff0000"/>
<circle cx="1813.7" cy="1172.8" r="8.3" fill="#ff0000"/>
<circle cx="2006.2" cy="1187.5" r="8.3" fill="#ff0000"/>
<text x="545.5" y="1626.0" font-family='"Liberation Serif", serif' font-size="44" font-weight="normal" fill="#000" text-anchor="middle" stroke="#ffffff" stroke-width="0.35" stroke-linejoin="round">0</text>
<text x="545.5" y="1470.5" font-family='"Liberation Serif", serif' font-size="44" font-weight="normal" fill="#000" text-anchor="middle" stroke="#ffffff" stroke-width="0.35" stroke-linejoin="round">2</text>
<text x="545.5" y="1315.1" font-family='"Liberation Serif", serif' font-size="44" font-weight="normal" fill="#000" text-anchor="middle" stroke="#ffffff" stroke-width="0.35" stroke-linejoin="round">4</text>
<text x="545.5" y="1159.7" font-family='"Liberation Serif", serif' font-size="44" font-weight="normal" fill="#000" text-anchor="middle" stroke="#ffffff" stroke-width="0.35" stroke-linejoin="round">6</text>
<text x="545.5" y="1004.2" font-family='"Liberation Serif", serif' font-size="44" font-weight="normal" fill="#000" text-anchor="middle" stroke="#ffffff" stroke-width="0.35" stroke-linejoin="round">8</text>
<text x="2172.5" y="1626.0" font-family='"Liberation Serif", serif' font-size="44" font-weight="normal" fill="#ff0000" text-anchor="start" stroke="#ffffff" stroke-width="0.35" stroke-linejoin="round">0</text>
<text x="2172.5" y="1470.5" font-family='"Liberation Serif", serif' font-size="44" font-weight="normal" fill="#ff0000" text-anchor="start" stroke="#ffffff" stroke-width="0.35" stroke-linejoin="round">90</text>
<text x="2172.5" y="1315.1" font-family='"Liberation Serif", serif' font-size="44" font-weight="normal" fill="#ff0000" text-anchor="start" stroke="#ffffff" stroke-width="0.35" stroke-linejoin="round">180</text>
<text x="2172.5" y="1159.7" font-family='"Liberation Serif", serif' font-size="44" font-weight="normal" fill="#ff0000" text-anchor="start" stroke="#ffffff" stroke-width="0.35" stroke-linejoin="round">270</text>
<text x="2172.5" y="1004.2" font-family='"Liberation Serif", serif' font-size="44" font-weight="normal" fill="#ff0000" text-anchor="start" stroke="#ffffff" stroke-width="0.35" stroke-linejoin="round">360</text>
<text x="595.7" y="1677.0" font-family='"Liberation Serif", serif' font-size="44" font-weight="normal" fill="#000" text-anchor="middle" stroke="#ffffff" stroke-width="0.35" stroke-linejoin="round">12:00</text>
<text x="788.2" y="1677.0" font-family='"Liberation Serif", serif' font-size="44" font-weight="normal" fill="#000" text-anchor="middle" stroke="#ffffff" stroke-width="0.35" stroke-linejoin="round">18:00</text>
<text x="980.6" y="1677.0" font-family='"Liberation Serif", serif' font-size="44" font-weight="normal" fill="#000" text-anchor="middle" stroke="#ffffff" stroke-width="0.35" stroke-linejoin="round">0:00</text>
<text x="1173.1" y="1677.0" font-family='"Liberation Serif", serif' font-size="44" font-weight="normal" fill="#000" text-anchor="middle" stroke="#ffffff" stroke-width="0.35" stroke-linejoin="round">6:00</text>
<text x="1365.5" y="1677.0" font-family='"Liberation Serif", serif' font-size="44" font-weight="normal" fill="#000" text-anchor="middle" stroke="#ffffff" stroke-width="0.35" stroke-linejoin="round">12:00</text>
<text x="1558.0" y="1677.0" font-family='"Liberation Serif", serif' font-size="44" font-weight="normal" fill="#000" text-anchor="middle" stroke="#ffffff" stroke-width="0.35" stroke-linejoin="round">18:00</text>
<text x="1750.4" y="1677.0" font-family='"Liberation Serif", serif' font-size="44" font-weight="normal" fill="#000" text-anchor="middle" stroke="#ffffff" stroke-width="0.35" stroke-linejoin="round">0:00</text>
<text x="1942.9" y="1677.0" font-family='"Liberation Serif", serif' font-size="44" font-weight="normal" fill="#000" text-anchor="middle" stroke="#ffffff" stroke-width="0.35" stroke-linejoin="round">6:00</text>
<text x="2135.3" y="1677.0" font-family='"Liberation Serif", serif' font-size="44" font-weight="normal" fill="#000" text-anchor="middle" stroke="#ffffff" stroke-width="0.35" stroke-linejoin="round">12:00</text>
<text x="543.0" y="1734.5" font-family='"Liberation Serif", serif' font-size="44" font-weight="normal" fill="#000" text-anchor="start" stroke="#ffffff" stroke-width="0.35" stroke-linejoin="round">24 Dec</text>
<text x="938.0" y="1734.5" font-family='"Liberation Serif", serif' font-size="44" font-weight="normal" fill="#000" text-anchor="start" stroke="#ffffff" stroke-width="0.35" stroke-linejoin="round">25 Dec</text>
<text x="1720.0" y="1734.5" font-family='"Liberation Serif", serif' font-size="44" font-weight="normal" fill="#000" text-anchor="start" xml:space="preserve" stroke="#ffffff" stroke-width="0.35" stroke-linejoin="round">26  Dec</text>
<text x="1258.5" y="1785.5" font-family='"Liberation Serif", serif' font-size="44" font-weight="normal" fill="#000" text-anchor="start" stroke="#ffffff" stroke-width="0.35" stroke-linejoin="round">Time and Date</text>
<text x="516.7" y="1304.0" font-family='"Liberation Serif", serif' font-size="44" font-weight="normal" fill="#000" text-anchor="middle" transform="rotate(-90 516.7 1304.0)" stroke="#ffffff" stroke-width="0.35" stroke-linejoin="round">Wind Speed(m/s)</text>
<text x="2298.0" y="1302.0" font-family='"Liberation Serif", serif' font-size="44" font-weight="normal" fill="#ff0000" text-anchor="middle" transform="rotate(-90 2298.0 1302.0)" stroke="#ffffff" stroke-width="0.35" stroke-linejoin="round">Wind Direction(°)</text>
<text x="443.0" y="1004.0" font-family='"Liberation Sans", sans-serif' font-size="43.8" font-weight="bold" fill="#000" text-anchor="start">C</text>
<line x1="1671.50" y1="1367.20" x2="1736.00" y2="1367.20" stroke="#000" stroke-width="4"/>
<rect x="1696" y="1359.2" width="16" height="16" fill="#000"/>
<line x1="1671.50" y1="1434.40" x2="1736.00" y2="1434.40" stroke="#ff0000" stroke-width="4"/>
<circle cx="1704" cy="1434.4" r="8" fill="#ff0000"/>
<text x="1744.5" y="1382.0" font-family='"Liberation Serif", serif' font-size="44" font-weight="normal" fill="#404040" text-anchor="start" stroke="#ffffff" stroke-width="0.35" stroke-linejoin="round">Wind Speed</text>
<text x="1744.5" y="1449.0" font-family='"Liberation Serif", serif' font-size="44" font-weight="normal" fill="#404040" text-anchor="start" stroke="#ffffff" stroke-width="0.35" stroke-linejoin="round">Wind Direction</text>
</svg>
</body>
</html>
